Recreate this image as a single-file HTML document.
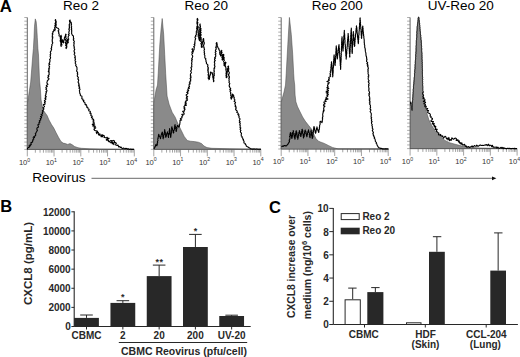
<!DOCTYPE html>
<html><head><meta charset="utf-8"><style>
html,body{margin:0;padding:0;background:#fff;width:520px;height:357px;overflow:hidden;}
svg{display:block;}
</style></head><body>
<svg width="520" height="357" viewBox="0 0 520 357">
<rect width="520" height="357" fill="#fff"/>
<text x="-0.2" y="12.2" font-family="Liberation Sans, sans-serif" font-weight="bold" font-size="16.8">A</text>
<text x="62.900000000000006" y="10.4" font-family="Liberation Sans, sans-serif" font-size="13.5">Reo 2</text>
<text x="184.6" y="10.4" font-family="Liberation Sans, sans-serif" font-size="13.5">Reo 20</text>
<text x="311.7" y="10.4" font-family="Liberation Sans, sans-serif" font-size="13.5">Reo 200</text>
<text x="427.8" y="10.4" font-family="Liberation Sans, sans-serif" font-size="13.5">UV-Reo 20</text>
<line x1="27.3" y1="17.5" x2="27.3" y2="149.4" stroke="#555" stroke-width="0.9"/>
<line x1="24.3" y1="17.50" x2="27.3" y2="17.50" stroke="#777" stroke-width="0.6"/>
<line x1="24.3" y1="21.16" x2="27.3" y2="21.16" stroke="#777" stroke-width="0.6"/>
<line x1="24.3" y1="24.83" x2="27.3" y2="24.83" stroke="#777" stroke-width="0.6"/>
<line x1="24.3" y1="28.49" x2="27.3" y2="28.49" stroke="#777" stroke-width="0.6"/>
<line x1="24.3" y1="32.16" x2="27.3" y2="32.16" stroke="#777" stroke-width="0.6"/>
<line x1="24.3" y1="35.82" x2="27.3" y2="35.82" stroke="#777" stroke-width="0.6"/>
<line x1="24.3" y1="39.48" x2="27.3" y2="39.48" stroke="#777" stroke-width="0.6"/>
<line x1="24.3" y1="43.15" x2="27.3" y2="43.15" stroke="#777" stroke-width="0.6"/>
<line x1="24.3" y1="46.81" x2="27.3" y2="46.81" stroke="#777" stroke-width="0.6"/>
<line x1="24.3" y1="50.48" x2="27.3" y2="50.48" stroke="#777" stroke-width="0.6"/>
<line x1="24.3" y1="54.14" x2="27.3" y2="54.14" stroke="#777" stroke-width="0.6"/>
<line x1="24.3" y1="57.80" x2="27.3" y2="57.80" stroke="#777" stroke-width="0.6"/>
<line x1="24.3" y1="61.47" x2="27.3" y2="61.47" stroke="#777" stroke-width="0.6"/>
<line x1="24.3" y1="65.13" x2="27.3" y2="65.13" stroke="#777" stroke-width="0.6"/>
<line x1="24.3" y1="68.79" x2="27.3" y2="68.79" stroke="#777" stroke-width="0.6"/>
<line x1="24.3" y1="72.46" x2="27.3" y2="72.46" stroke="#777" stroke-width="0.6"/>
<line x1="24.3" y1="76.12" x2="27.3" y2="76.12" stroke="#777" stroke-width="0.6"/>
<line x1="24.3" y1="79.79" x2="27.3" y2="79.79" stroke="#777" stroke-width="0.6"/>
<line x1="24.3" y1="83.45" x2="27.3" y2="83.45" stroke="#777" stroke-width="0.6"/>
<line x1="24.3" y1="87.11" x2="27.3" y2="87.11" stroke="#777" stroke-width="0.6"/>
<line x1="24.3" y1="90.78" x2="27.3" y2="90.78" stroke="#777" stroke-width="0.6"/>
<line x1="24.3" y1="94.44" x2="27.3" y2="94.44" stroke="#777" stroke-width="0.6"/>
<line x1="24.3" y1="98.11" x2="27.3" y2="98.11" stroke="#777" stroke-width="0.6"/>
<line x1="24.3" y1="101.77" x2="27.3" y2="101.77" stroke="#777" stroke-width="0.6"/>
<line x1="24.3" y1="105.43" x2="27.3" y2="105.43" stroke="#777" stroke-width="0.6"/>
<line x1="24.3" y1="109.10" x2="27.3" y2="109.10" stroke="#777" stroke-width="0.6"/>
<line x1="24.3" y1="112.76" x2="27.3" y2="112.76" stroke="#777" stroke-width="0.6"/>
<line x1="24.3" y1="116.43" x2="27.3" y2="116.43" stroke="#777" stroke-width="0.6"/>
<line x1="24.3" y1="120.09" x2="27.3" y2="120.09" stroke="#777" stroke-width="0.6"/>
<line x1="24.3" y1="123.75" x2="27.3" y2="123.75" stroke="#777" stroke-width="0.6"/>
<line x1="24.3" y1="127.42" x2="27.3" y2="127.42" stroke="#777" stroke-width="0.6"/>
<line x1="24.3" y1="131.08" x2="27.3" y2="131.08" stroke="#777" stroke-width="0.6"/>
<line x1="24.3" y1="134.74" x2="27.3" y2="134.74" stroke="#777" stroke-width="0.6"/>
<line x1="24.3" y1="138.41" x2="27.3" y2="138.41" stroke="#777" stroke-width="0.6"/>
<line x1="24.3" y1="142.07" x2="27.3" y2="142.07" stroke="#777" stroke-width="0.6"/>
<line x1="24.3" y1="145.74" x2="27.3" y2="145.74" stroke="#777" stroke-width="0.6"/>
<line x1="24.3" y1="149.40" x2="27.3" y2="149.40" stroke="#777" stroke-width="0.6"/>
<line x1="27.3" y1="149.4" x2="134.3" y2="149.4" stroke="#444" stroke-width="0.9"/>
<line x1="27.30" y1="149.4" x2="27.30" y2="156.4" stroke="#666" stroke-width="0.6"/>
<line x1="35.35" y1="149.4" x2="35.35" y2="152.70000000000002" stroke="#666" stroke-width="0.6"/>
<line x1="40.06" y1="149.4" x2="40.06" y2="152.70000000000002" stroke="#666" stroke-width="0.6"/>
<line x1="43.41" y1="149.4" x2="43.41" y2="152.70000000000002" stroke="#666" stroke-width="0.6"/>
<line x1="46.00" y1="149.4" x2="46.00" y2="152.70000000000002" stroke="#666" stroke-width="0.6"/>
<line x1="48.12" y1="149.4" x2="48.12" y2="152.70000000000002" stroke="#666" stroke-width="0.6"/>
<line x1="49.91" y1="149.4" x2="49.91" y2="152.70000000000002" stroke="#666" stroke-width="0.6"/>
<line x1="51.46" y1="149.4" x2="51.46" y2="152.70000000000002" stroke="#666" stroke-width="0.6"/>
<line x1="52.83" y1="149.4" x2="52.83" y2="152.70000000000002" stroke="#666" stroke-width="0.6"/>
<line x1="54.05" y1="149.4" x2="54.05" y2="156.4" stroke="#666" stroke-width="0.6"/>
<line x1="62.10" y1="149.4" x2="62.10" y2="152.70000000000002" stroke="#666" stroke-width="0.6"/>
<line x1="66.81" y1="149.4" x2="66.81" y2="152.70000000000002" stroke="#666" stroke-width="0.6"/>
<line x1="70.16" y1="149.4" x2="70.16" y2="152.70000000000002" stroke="#666" stroke-width="0.6"/>
<line x1="72.75" y1="149.4" x2="72.75" y2="152.70000000000002" stroke="#666" stroke-width="0.6"/>
<line x1="74.87" y1="149.4" x2="74.87" y2="152.70000000000002" stroke="#666" stroke-width="0.6"/>
<line x1="76.66" y1="149.4" x2="76.66" y2="152.70000000000002" stroke="#666" stroke-width="0.6"/>
<line x1="78.21" y1="149.4" x2="78.21" y2="152.70000000000002" stroke="#666" stroke-width="0.6"/>
<line x1="79.58" y1="149.4" x2="79.58" y2="152.70000000000002" stroke="#666" stroke-width="0.6"/>
<line x1="80.80" y1="149.4" x2="80.80" y2="156.4" stroke="#666" stroke-width="0.6"/>
<line x1="88.85" y1="149.4" x2="88.85" y2="152.70000000000002" stroke="#666" stroke-width="0.6"/>
<line x1="93.56" y1="149.4" x2="93.56" y2="152.70000000000002" stroke="#666" stroke-width="0.6"/>
<line x1="96.91" y1="149.4" x2="96.91" y2="152.70000000000002" stroke="#666" stroke-width="0.6"/>
<line x1="99.50" y1="149.4" x2="99.50" y2="152.70000000000002" stroke="#666" stroke-width="0.6"/>
<line x1="101.62" y1="149.4" x2="101.62" y2="152.70000000000002" stroke="#666" stroke-width="0.6"/>
<line x1="103.41" y1="149.4" x2="103.41" y2="152.70000000000002" stroke="#666" stroke-width="0.6"/>
<line x1="104.96" y1="149.4" x2="104.96" y2="152.70000000000002" stroke="#666" stroke-width="0.6"/>
<line x1="106.33" y1="149.4" x2="106.33" y2="152.70000000000002" stroke="#666" stroke-width="0.6"/>
<line x1="107.55" y1="149.4" x2="107.55" y2="156.4" stroke="#666" stroke-width="0.6"/>
<line x1="115.60" y1="149.4" x2="115.60" y2="152.70000000000002" stroke="#666" stroke-width="0.6"/>
<line x1="120.31" y1="149.4" x2="120.31" y2="152.70000000000002" stroke="#666" stroke-width="0.6"/>
<line x1="123.66" y1="149.4" x2="123.66" y2="152.70000000000002" stroke="#666" stroke-width="0.6"/>
<line x1="126.25" y1="149.4" x2="126.25" y2="152.70000000000002" stroke="#666" stroke-width="0.6"/>
<line x1="128.37" y1="149.4" x2="128.37" y2="152.70000000000002" stroke="#666" stroke-width="0.6"/>
<line x1="130.16" y1="149.4" x2="130.16" y2="152.70000000000002" stroke="#666" stroke-width="0.6"/>
<line x1="131.71" y1="149.4" x2="131.71" y2="152.70000000000002" stroke="#666" stroke-width="0.6"/>
<line x1="133.08" y1="149.4" x2="133.08" y2="152.70000000000002" stroke="#666" stroke-width="0.6"/>
<line x1="134.30" y1="149.4" x2="134.30" y2="156.4" stroke="#666" stroke-width="0.6"/>
<text x="18.90" y="164.70000000000002" font-family="Liberation Sans, sans-serif" font-size="7.6" fill="#333">10<tspan dy="-3.2" font-size="5.2">0</tspan></text>
<text x="45.65" y="164.70000000000002" font-family="Liberation Sans, sans-serif" font-size="7.6" fill="#333">10<tspan dy="-3.2" font-size="5.2">1</tspan></text>
<text x="72.40" y="164.70000000000002" font-family="Liberation Sans, sans-serif" font-size="7.6" fill="#333">10<tspan dy="-3.2" font-size="5.2">2</tspan></text>
<text x="99.15" y="164.70000000000002" font-family="Liberation Sans, sans-serif" font-size="7.6" fill="#333">10<tspan dy="-3.2" font-size="5.2">3</tspan></text>
<text x="125.90" y="164.70000000000002" font-family="Liberation Sans, sans-serif" font-size="7.6" fill="#333">10<tspan dy="-3.2" font-size="5.2">4</tspan></text>
<line x1="153.8" y1="17.5" x2="153.8" y2="149.3" stroke="#555" stroke-width="0.9"/>
<line x1="150.8" y1="17.50" x2="153.8" y2="17.50" stroke="#777" stroke-width="0.6"/>
<line x1="150.8" y1="21.16" x2="153.8" y2="21.16" stroke="#777" stroke-width="0.6"/>
<line x1="150.8" y1="24.82" x2="153.8" y2="24.82" stroke="#777" stroke-width="0.6"/>
<line x1="150.8" y1="28.48" x2="153.8" y2="28.48" stroke="#777" stroke-width="0.6"/>
<line x1="150.8" y1="32.14" x2="153.8" y2="32.14" stroke="#777" stroke-width="0.6"/>
<line x1="150.8" y1="35.81" x2="153.8" y2="35.81" stroke="#777" stroke-width="0.6"/>
<line x1="150.8" y1="39.47" x2="153.8" y2="39.47" stroke="#777" stroke-width="0.6"/>
<line x1="150.8" y1="43.13" x2="153.8" y2="43.13" stroke="#777" stroke-width="0.6"/>
<line x1="150.8" y1="46.79" x2="153.8" y2="46.79" stroke="#777" stroke-width="0.6"/>
<line x1="150.8" y1="50.45" x2="153.8" y2="50.45" stroke="#777" stroke-width="0.6"/>
<line x1="150.8" y1="54.11" x2="153.8" y2="54.11" stroke="#777" stroke-width="0.6"/>
<line x1="150.8" y1="57.77" x2="153.8" y2="57.77" stroke="#777" stroke-width="0.6"/>
<line x1="150.8" y1="61.43" x2="153.8" y2="61.43" stroke="#777" stroke-width="0.6"/>
<line x1="150.8" y1="65.09" x2="153.8" y2="65.09" stroke="#777" stroke-width="0.6"/>
<line x1="150.8" y1="68.76" x2="153.8" y2="68.76" stroke="#777" stroke-width="0.6"/>
<line x1="150.8" y1="72.42" x2="153.8" y2="72.42" stroke="#777" stroke-width="0.6"/>
<line x1="150.8" y1="76.08" x2="153.8" y2="76.08" stroke="#777" stroke-width="0.6"/>
<line x1="150.8" y1="79.74" x2="153.8" y2="79.74" stroke="#777" stroke-width="0.6"/>
<line x1="150.8" y1="83.40" x2="153.8" y2="83.40" stroke="#777" stroke-width="0.6"/>
<line x1="150.8" y1="87.06" x2="153.8" y2="87.06" stroke="#777" stroke-width="0.6"/>
<line x1="150.8" y1="90.72" x2="153.8" y2="90.72" stroke="#777" stroke-width="0.6"/>
<line x1="150.8" y1="94.38" x2="153.8" y2="94.38" stroke="#777" stroke-width="0.6"/>
<line x1="150.8" y1="98.04" x2="153.8" y2="98.04" stroke="#777" stroke-width="0.6"/>
<line x1="150.8" y1="101.71" x2="153.8" y2="101.71" stroke="#777" stroke-width="0.6"/>
<line x1="150.8" y1="105.37" x2="153.8" y2="105.37" stroke="#777" stroke-width="0.6"/>
<line x1="150.8" y1="109.03" x2="153.8" y2="109.03" stroke="#777" stroke-width="0.6"/>
<line x1="150.8" y1="112.69" x2="153.8" y2="112.69" stroke="#777" stroke-width="0.6"/>
<line x1="150.8" y1="116.35" x2="153.8" y2="116.35" stroke="#777" stroke-width="0.6"/>
<line x1="150.8" y1="120.01" x2="153.8" y2="120.01" stroke="#777" stroke-width="0.6"/>
<line x1="150.8" y1="123.67" x2="153.8" y2="123.67" stroke="#777" stroke-width="0.6"/>
<line x1="150.8" y1="127.33" x2="153.8" y2="127.33" stroke="#777" stroke-width="0.6"/>
<line x1="150.8" y1="130.99" x2="153.8" y2="130.99" stroke="#777" stroke-width="0.6"/>
<line x1="150.8" y1="134.66" x2="153.8" y2="134.66" stroke="#777" stroke-width="0.6"/>
<line x1="150.8" y1="138.32" x2="153.8" y2="138.32" stroke="#777" stroke-width="0.6"/>
<line x1="150.8" y1="141.98" x2="153.8" y2="141.98" stroke="#777" stroke-width="0.6"/>
<line x1="150.8" y1="145.64" x2="153.8" y2="145.64" stroke="#777" stroke-width="0.6"/>
<line x1="150.8" y1="149.30" x2="153.8" y2="149.30" stroke="#777" stroke-width="0.6"/>
<line x1="153.8" y1="149.3" x2="260.8" y2="149.3" stroke="#444" stroke-width="0.9"/>
<line x1="153.80" y1="149.3" x2="153.80" y2="156.3" stroke="#666" stroke-width="0.6"/>
<line x1="161.85" y1="149.3" x2="161.85" y2="152.60000000000002" stroke="#666" stroke-width="0.6"/>
<line x1="166.56" y1="149.3" x2="166.56" y2="152.60000000000002" stroke="#666" stroke-width="0.6"/>
<line x1="169.91" y1="149.3" x2="169.91" y2="152.60000000000002" stroke="#666" stroke-width="0.6"/>
<line x1="172.50" y1="149.3" x2="172.50" y2="152.60000000000002" stroke="#666" stroke-width="0.6"/>
<line x1="174.62" y1="149.3" x2="174.62" y2="152.60000000000002" stroke="#666" stroke-width="0.6"/>
<line x1="176.41" y1="149.3" x2="176.41" y2="152.60000000000002" stroke="#666" stroke-width="0.6"/>
<line x1="177.96" y1="149.3" x2="177.96" y2="152.60000000000002" stroke="#666" stroke-width="0.6"/>
<line x1="179.33" y1="149.3" x2="179.33" y2="152.60000000000002" stroke="#666" stroke-width="0.6"/>
<line x1="180.55" y1="149.3" x2="180.55" y2="156.3" stroke="#666" stroke-width="0.6"/>
<line x1="188.60" y1="149.3" x2="188.60" y2="152.60000000000002" stroke="#666" stroke-width="0.6"/>
<line x1="193.31" y1="149.3" x2="193.31" y2="152.60000000000002" stroke="#666" stroke-width="0.6"/>
<line x1="196.66" y1="149.3" x2="196.66" y2="152.60000000000002" stroke="#666" stroke-width="0.6"/>
<line x1="199.25" y1="149.3" x2="199.25" y2="152.60000000000002" stroke="#666" stroke-width="0.6"/>
<line x1="201.37" y1="149.3" x2="201.37" y2="152.60000000000002" stroke="#666" stroke-width="0.6"/>
<line x1="203.16" y1="149.3" x2="203.16" y2="152.60000000000002" stroke="#666" stroke-width="0.6"/>
<line x1="204.71" y1="149.3" x2="204.71" y2="152.60000000000002" stroke="#666" stroke-width="0.6"/>
<line x1="206.08" y1="149.3" x2="206.08" y2="152.60000000000002" stroke="#666" stroke-width="0.6"/>
<line x1="207.30" y1="149.3" x2="207.30" y2="156.3" stroke="#666" stroke-width="0.6"/>
<line x1="215.35" y1="149.3" x2="215.35" y2="152.60000000000002" stroke="#666" stroke-width="0.6"/>
<line x1="220.06" y1="149.3" x2="220.06" y2="152.60000000000002" stroke="#666" stroke-width="0.6"/>
<line x1="223.41" y1="149.3" x2="223.41" y2="152.60000000000002" stroke="#666" stroke-width="0.6"/>
<line x1="226.00" y1="149.3" x2="226.00" y2="152.60000000000002" stroke="#666" stroke-width="0.6"/>
<line x1="228.12" y1="149.3" x2="228.12" y2="152.60000000000002" stroke="#666" stroke-width="0.6"/>
<line x1="229.91" y1="149.3" x2="229.91" y2="152.60000000000002" stroke="#666" stroke-width="0.6"/>
<line x1="231.46" y1="149.3" x2="231.46" y2="152.60000000000002" stroke="#666" stroke-width="0.6"/>
<line x1="232.83" y1="149.3" x2="232.83" y2="152.60000000000002" stroke="#666" stroke-width="0.6"/>
<line x1="234.05" y1="149.3" x2="234.05" y2="156.3" stroke="#666" stroke-width="0.6"/>
<line x1="242.10" y1="149.3" x2="242.10" y2="152.60000000000002" stroke="#666" stroke-width="0.6"/>
<line x1="246.81" y1="149.3" x2="246.81" y2="152.60000000000002" stroke="#666" stroke-width="0.6"/>
<line x1="250.16" y1="149.3" x2="250.16" y2="152.60000000000002" stroke="#666" stroke-width="0.6"/>
<line x1="252.75" y1="149.3" x2="252.75" y2="152.60000000000002" stroke="#666" stroke-width="0.6"/>
<line x1="254.87" y1="149.3" x2="254.87" y2="152.60000000000002" stroke="#666" stroke-width="0.6"/>
<line x1="256.66" y1="149.3" x2="256.66" y2="152.60000000000002" stroke="#666" stroke-width="0.6"/>
<line x1="258.21" y1="149.3" x2="258.21" y2="152.60000000000002" stroke="#666" stroke-width="0.6"/>
<line x1="259.58" y1="149.3" x2="259.58" y2="152.60000000000002" stroke="#666" stroke-width="0.6"/>
<line x1="260.80" y1="149.3" x2="260.80" y2="156.3" stroke="#666" stroke-width="0.6"/>
<text x="145.40" y="164.60000000000002" font-family="Liberation Sans, sans-serif" font-size="7.6" fill="#333">10<tspan dy="-3.2" font-size="5.2">0</tspan></text>
<text x="172.15" y="164.60000000000002" font-family="Liberation Sans, sans-serif" font-size="7.6" fill="#333">10<tspan dy="-3.2" font-size="5.2">1</tspan></text>
<text x="198.90" y="164.60000000000002" font-family="Liberation Sans, sans-serif" font-size="7.6" fill="#333">10<tspan dy="-3.2" font-size="5.2">2</tspan></text>
<text x="225.65" y="164.60000000000002" font-family="Liberation Sans, sans-serif" font-size="7.6" fill="#333">10<tspan dy="-3.2" font-size="5.2">3</tspan></text>
<text x="252.40" y="164.60000000000002" font-family="Liberation Sans, sans-serif" font-size="7.6" fill="#333">10<tspan dy="-3.2" font-size="5.2">4</tspan></text>
<line x1="281.2" y1="17.5" x2="281.2" y2="149.0" stroke="#555" stroke-width="0.9"/>
<line x1="278.2" y1="17.50" x2="281.2" y2="17.50" stroke="#777" stroke-width="0.6"/>
<line x1="278.2" y1="21.15" x2="281.2" y2="21.15" stroke="#777" stroke-width="0.6"/>
<line x1="278.2" y1="24.81" x2="281.2" y2="24.81" stroke="#777" stroke-width="0.6"/>
<line x1="278.2" y1="28.46" x2="281.2" y2="28.46" stroke="#777" stroke-width="0.6"/>
<line x1="278.2" y1="32.11" x2="281.2" y2="32.11" stroke="#777" stroke-width="0.6"/>
<line x1="278.2" y1="35.76" x2="281.2" y2="35.76" stroke="#777" stroke-width="0.6"/>
<line x1="278.2" y1="39.42" x2="281.2" y2="39.42" stroke="#777" stroke-width="0.6"/>
<line x1="278.2" y1="43.07" x2="281.2" y2="43.07" stroke="#777" stroke-width="0.6"/>
<line x1="278.2" y1="46.72" x2="281.2" y2="46.72" stroke="#777" stroke-width="0.6"/>
<line x1="278.2" y1="50.38" x2="281.2" y2="50.38" stroke="#777" stroke-width="0.6"/>
<line x1="278.2" y1="54.03" x2="281.2" y2="54.03" stroke="#777" stroke-width="0.6"/>
<line x1="278.2" y1="57.68" x2="281.2" y2="57.68" stroke="#777" stroke-width="0.6"/>
<line x1="278.2" y1="61.33" x2="281.2" y2="61.33" stroke="#777" stroke-width="0.6"/>
<line x1="278.2" y1="64.99" x2="281.2" y2="64.99" stroke="#777" stroke-width="0.6"/>
<line x1="278.2" y1="68.64" x2="281.2" y2="68.64" stroke="#777" stroke-width="0.6"/>
<line x1="278.2" y1="72.29" x2="281.2" y2="72.29" stroke="#777" stroke-width="0.6"/>
<line x1="278.2" y1="75.94" x2="281.2" y2="75.94" stroke="#777" stroke-width="0.6"/>
<line x1="278.2" y1="79.60" x2="281.2" y2="79.60" stroke="#777" stroke-width="0.6"/>
<line x1="278.2" y1="83.25" x2="281.2" y2="83.25" stroke="#777" stroke-width="0.6"/>
<line x1="278.2" y1="86.90" x2="281.2" y2="86.90" stroke="#777" stroke-width="0.6"/>
<line x1="278.2" y1="90.56" x2="281.2" y2="90.56" stroke="#777" stroke-width="0.6"/>
<line x1="278.2" y1="94.21" x2="281.2" y2="94.21" stroke="#777" stroke-width="0.6"/>
<line x1="278.2" y1="97.86" x2="281.2" y2="97.86" stroke="#777" stroke-width="0.6"/>
<line x1="278.2" y1="101.51" x2="281.2" y2="101.51" stroke="#777" stroke-width="0.6"/>
<line x1="278.2" y1="105.17" x2="281.2" y2="105.17" stroke="#777" stroke-width="0.6"/>
<line x1="278.2" y1="108.82" x2="281.2" y2="108.82" stroke="#777" stroke-width="0.6"/>
<line x1="278.2" y1="112.47" x2="281.2" y2="112.47" stroke="#777" stroke-width="0.6"/>
<line x1="278.2" y1="116.12" x2="281.2" y2="116.12" stroke="#777" stroke-width="0.6"/>
<line x1="278.2" y1="119.78" x2="281.2" y2="119.78" stroke="#777" stroke-width="0.6"/>
<line x1="278.2" y1="123.43" x2="281.2" y2="123.43" stroke="#777" stroke-width="0.6"/>
<line x1="278.2" y1="127.08" x2="281.2" y2="127.08" stroke="#777" stroke-width="0.6"/>
<line x1="278.2" y1="130.74" x2="281.2" y2="130.74" stroke="#777" stroke-width="0.6"/>
<line x1="278.2" y1="134.39" x2="281.2" y2="134.39" stroke="#777" stroke-width="0.6"/>
<line x1="278.2" y1="138.04" x2="281.2" y2="138.04" stroke="#777" stroke-width="0.6"/>
<line x1="278.2" y1="141.69" x2="281.2" y2="141.69" stroke="#777" stroke-width="0.6"/>
<line x1="278.2" y1="145.35" x2="281.2" y2="145.35" stroke="#777" stroke-width="0.6"/>
<line x1="278.2" y1="149.00" x2="281.2" y2="149.00" stroke="#777" stroke-width="0.6"/>
<line x1="281.2" y1="149.0" x2="388.2" y2="149.0" stroke="#444" stroke-width="0.9"/>
<line x1="281.20" y1="149.0" x2="281.20" y2="156.0" stroke="#666" stroke-width="0.6"/>
<line x1="289.25" y1="149.0" x2="289.25" y2="152.3" stroke="#666" stroke-width="0.6"/>
<line x1="293.96" y1="149.0" x2="293.96" y2="152.3" stroke="#666" stroke-width="0.6"/>
<line x1="297.31" y1="149.0" x2="297.31" y2="152.3" stroke="#666" stroke-width="0.6"/>
<line x1="299.90" y1="149.0" x2="299.90" y2="152.3" stroke="#666" stroke-width="0.6"/>
<line x1="302.02" y1="149.0" x2="302.02" y2="152.3" stroke="#666" stroke-width="0.6"/>
<line x1="303.81" y1="149.0" x2="303.81" y2="152.3" stroke="#666" stroke-width="0.6"/>
<line x1="305.36" y1="149.0" x2="305.36" y2="152.3" stroke="#666" stroke-width="0.6"/>
<line x1="306.73" y1="149.0" x2="306.73" y2="152.3" stroke="#666" stroke-width="0.6"/>
<line x1="307.95" y1="149.0" x2="307.95" y2="156.0" stroke="#666" stroke-width="0.6"/>
<line x1="316.00" y1="149.0" x2="316.00" y2="152.3" stroke="#666" stroke-width="0.6"/>
<line x1="320.71" y1="149.0" x2="320.71" y2="152.3" stroke="#666" stroke-width="0.6"/>
<line x1="324.06" y1="149.0" x2="324.06" y2="152.3" stroke="#666" stroke-width="0.6"/>
<line x1="326.65" y1="149.0" x2="326.65" y2="152.3" stroke="#666" stroke-width="0.6"/>
<line x1="328.77" y1="149.0" x2="328.77" y2="152.3" stroke="#666" stroke-width="0.6"/>
<line x1="330.56" y1="149.0" x2="330.56" y2="152.3" stroke="#666" stroke-width="0.6"/>
<line x1="332.11" y1="149.0" x2="332.11" y2="152.3" stroke="#666" stroke-width="0.6"/>
<line x1="333.48" y1="149.0" x2="333.48" y2="152.3" stroke="#666" stroke-width="0.6"/>
<line x1="334.70" y1="149.0" x2="334.70" y2="156.0" stroke="#666" stroke-width="0.6"/>
<line x1="342.75" y1="149.0" x2="342.75" y2="152.3" stroke="#666" stroke-width="0.6"/>
<line x1="347.46" y1="149.0" x2="347.46" y2="152.3" stroke="#666" stroke-width="0.6"/>
<line x1="350.81" y1="149.0" x2="350.81" y2="152.3" stroke="#666" stroke-width="0.6"/>
<line x1="353.40" y1="149.0" x2="353.40" y2="152.3" stroke="#666" stroke-width="0.6"/>
<line x1="355.52" y1="149.0" x2="355.52" y2="152.3" stroke="#666" stroke-width="0.6"/>
<line x1="357.31" y1="149.0" x2="357.31" y2="152.3" stroke="#666" stroke-width="0.6"/>
<line x1="358.86" y1="149.0" x2="358.86" y2="152.3" stroke="#666" stroke-width="0.6"/>
<line x1="360.23" y1="149.0" x2="360.23" y2="152.3" stroke="#666" stroke-width="0.6"/>
<line x1="361.45" y1="149.0" x2="361.45" y2="156.0" stroke="#666" stroke-width="0.6"/>
<line x1="369.50" y1="149.0" x2="369.50" y2="152.3" stroke="#666" stroke-width="0.6"/>
<line x1="374.21" y1="149.0" x2="374.21" y2="152.3" stroke="#666" stroke-width="0.6"/>
<line x1="377.56" y1="149.0" x2="377.56" y2="152.3" stroke="#666" stroke-width="0.6"/>
<line x1="380.15" y1="149.0" x2="380.15" y2="152.3" stroke="#666" stroke-width="0.6"/>
<line x1="382.27" y1="149.0" x2="382.27" y2="152.3" stroke="#666" stroke-width="0.6"/>
<line x1="384.06" y1="149.0" x2="384.06" y2="152.3" stroke="#666" stroke-width="0.6"/>
<line x1="385.61" y1="149.0" x2="385.61" y2="152.3" stroke="#666" stroke-width="0.6"/>
<line x1="386.98" y1="149.0" x2="386.98" y2="152.3" stroke="#666" stroke-width="0.6"/>
<line x1="388.20" y1="149.0" x2="388.20" y2="156.0" stroke="#666" stroke-width="0.6"/>
<text x="272.80" y="164.3" font-family="Liberation Sans, sans-serif" font-size="7.6" fill="#333">10<tspan dy="-3.2" font-size="5.2">0</tspan></text>
<text x="299.55" y="164.3" font-family="Liberation Sans, sans-serif" font-size="7.6" fill="#333">10<tspan dy="-3.2" font-size="5.2">1</tspan></text>
<text x="326.30" y="164.3" font-family="Liberation Sans, sans-serif" font-size="7.6" fill="#333">10<tspan dy="-3.2" font-size="5.2">2</tspan></text>
<text x="353.05" y="164.3" font-family="Liberation Sans, sans-serif" font-size="7.6" fill="#333">10<tspan dy="-3.2" font-size="5.2">3</tspan></text>
<text x="379.80" y="164.3" font-family="Liberation Sans, sans-serif" font-size="7.6" fill="#333">10<tspan dy="-3.2" font-size="5.2">4</tspan></text>
<line x1="410.1" y1="17.5" x2="410.1" y2="148.6" stroke="#555" stroke-width="0.9"/>
<line x1="407.1" y1="17.50" x2="410.1" y2="17.50" stroke="#777" stroke-width="0.6"/>
<line x1="407.1" y1="21.14" x2="410.1" y2="21.14" stroke="#777" stroke-width="0.6"/>
<line x1="407.1" y1="24.78" x2="410.1" y2="24.78" stroke="#777" stroke-width="0.6"/>
<line x1="407.1" y1="28.42" x2="410.1" y2="28.42" stroke="#777" stroke-width="0.6"/>
<line x1="407.1" y1="32.07" x2="410.1" y2="32.07" stroke="#777" stroke-width="0.6"/>
<line x1="407.1" y1="35.71" x2="410.1" y2="35.71" stroke="#777" stroke-width="0.6"/>
<line x1="407.1" y1="39.35" x2="410.1" y2="39.35" stroke="#777" stroke-width="0.6"/>
<line x1="407.1" y1="42.99" x2="410.1" y2="42.99" stroke="#777" stroke-width="0.6"/>
<line x1="407.1" y1="46.63" x2="410.1" y2="46.63" stroke="#777" stroke-width="0.6"/>
<line x1="407.1" y1="50.27" x2="410.1" y2="50.27" stroke="#777" stroke-width="0.6"/>
<line x1="407.1" y1="53.92" x2="410.1" y2="53.92" stroke="#777" stroke-width="0.6"/>
<line x1="407.1" y1="57.56" x2="410.1" y2="57.56" stroke="#777" stroke-width="0.6"/>
<line x1="407.1" y1="61.20" x2="410.1" y2="61.20" stroke="#777" stroke-width="0.6"/>
<line x1="407.1" y1="64.84" x2="410.1" y2="64.84" stroke="#777" stroke-width="0.6"/>
<line x1="407.1" y1="68.48" x2="410.1" y2="68.48" stroke="#777" stroke-width="0.6"/>
<line x1="407.1" y1="72.12" x2="410.1" y2="72.12" stroke="#777" stroke-width="0.6"/>
<line x1="407.1" y1="75.77" x2="410.1" y2="75.77" stroke="#777" stroke-width="0.6"/>
<line x1="407.1" y1="79.41" x2="410.1" y2="79.41" stroke="#777" stroke-width="0.6"/>
<line x1="407.1" y1="83.05" x2="410.1" y2="83.05" stroke="#777" stroke-width="0.6"/>
<line x1="407.1" y1="86.69" x2="410.1" y2="86.69" stroke="#777" stroke-width="0.6"/>
<line x1="407.1" y1="90.33" x2="410.1" y2="90.33" stroke="#777" stroke-width="0.6"/>
<line x1="407.1" y1="93.97" x2="410.1" y2="93.97" stroke="#777" stroke-width="0.6"/>
<line x1="407.1" y1="97.62" x2="410.1" y2="97.62" stroke="#777" stroke-width="0.6"/>
<line x1="407.1" y1="101.26" x2="410.1" y2="101.26" stroke="#777" stroke-width="0.6"/>
<line x1="407.1" y1="104.90" x2="410.1" y2="104.90" stroke="#777" stroke-width="0.6"/>
<line x1="407.1" y1="108.54" x2="410.1" y2="108.54" stroke="#777" stroke-width="0.6"/>
<line x1="407.1" y1="112.18" x2="410.1" y2="112.18" stroke="#777" stroke-width="0.6"/>
<line x1="407.1" y1="115.82" x2="410.1" y2="115.82" stroke="#777" stroke-width="0.6"/>
<line x1="407.1" y1="119.47" x2="410.1" y2="119.47" stroke="#777" stroke-width="0.6"/>
<line x1="407.1" y1="123.11" x2="410.1" y2="123.11" stroke="#777" stroke-width="0.6"/>
<line x1="407.1" y1="126.75" x2="410.1" y2="126.75" stroke="#777" stroke-width="0.6"/>
<line x1="407.1" y1="130.39" x2="410.1" y2="130.39" stroke="#777" stroke-width="0.6"/>
<line x1="407.1" y1="134.03" x2="410.1" y2="134.03" stroke="#777" stroke-width="0.6"/>
<line x1="407.1" y1="137.68" x2="410.1" y2="137.68" stroke="#777" stroke-width="0.6"/>
<line x1="407.1" y1="141.32" x2="410.1" y2="141.32" stroke="#777" stroke-width="0.6"/>
<line x1="407.1" y1="144.96" x2="410.1" y2="144.96" stroke="#777" stroke-width="0.6"/>
<line x1="407.1" y1="148.60" x2="410.1" y2="148.60" stroke="#777" stroke-width="0.6"/>
<line x1="410.1" y1="148.6" x2="517.1" y2="148.6" stroke="#444" stroke-width="0.9"/>
<line x1="410.10" y1="148.6" x2="410.10" y2="155.6" stroke="#666" stroke-width="0.6"/>
<line x1="418.15" y1="148.6" x2="418.15" y2="151.9" stroke="#666" stroke-width="0.6"/>
<line x1="422.86" y1="148.6" x2="422.86" y2="151.9" stroke="#666" stroke-width="0.6"/>
<line x1="426.21" y1="148.6" x2="426.21" y2="151.9" stroke="#666" stroke-width="0.6"/>
<line x1="428.80" y1="148.6" x2="428.80" y2="151.9" stroke="#666" stroke-width="0.6"/>
<line x1="430.92" y1="148.6" x2="430.92" y2="151.9" stroke="#666" stroke-width="0.6"/>
<line x1="432.71" y1="148.6" x2="432.71" y2="151.9" stroke="#666" stroke-width="0.6"/>
<line x1="434.26" y1="148.6" x2="434.26" y2="151.9" stroke="#666" stroke-width="0.6"/>
<line x1="435.63" y1="148.6" x2="435.63" y2="151.9" stroke="#666" stroke-width="0.6"/>
<line x1="436.85" y1="148.6" x2="436.85" y2="155.6" stroke="#666" stroke-width="0.6"/>
<line x1="444.90" y1="148.6" x2="444.90" y2="151.9" stroke="#666" stroke-width="0.6"/>
<line x1="449.61" y1="148.6" x2="449.61" y2="151.9" stroke="#666" stroke-width="0.6"/>
<line x1="452.96" y1="148.6" x2="452.96" y2="151.9" stroke="#666" stroke-width="0.6"/>
<line x1="455.55" y1="148.6" x2="455.55" y2="151.9" stroke="#666" stroke-width="0.6"/>
<line x1="457.67" y1="148.6" x2="457.67" y2="151.9" stroke="#666" stroke-width="0.6"/>
<line x1="459.46" y1="148.6" x2="459.46" y2="151.9" stroke="#666" stroke-width="0.6"/>
<line x1="461.01" y1="148.6" x2="461.01" y2="151.9" stroke="#666" stroke-width="0.6"/>
<line x1="462.38" y1="148.6" x2="462.38" y2="151.9" stroke="#666" stroke-width="0.6"/>
<line x1="463.60" y1="148.6" x2="463.60" y2="155.6" stroke="#666" stroke-width="0.6"/>
<line x1="471.65" y1="148.6" x2="471.65" y2="151.9" stroke="#666" stroke-width="0.6"/>
<line x1="476.36" y1="148.6" x2="476.36" y2="151.9" stroke="#666" stroke-width="0.6"/>
<line x1="479.71" y1="148.6" x2="479.71" y2="151.9" stroke="#666" stroke-width="0.6"/>
<line x1="482.30" y1="148.6" x2="482.30" y2="151.9" stroke="#666" stroke-width="0.6"/>
<line x1="484.42" y1="148.6" x2="484.42" y2="151.9" stroke="#666" stroke-width="0.6"/>
<line x1="486.21" y1="148.6" x2="486.21" y2="151.9" stroke="#666" stroke-width="0.6"/>
<line x1="487.76" y1="148.6" x2="487.76" y2="151.9" stroke="#666" stroke-width="0.6"/>
<line x1="489.13" y1="148.6" x2="489.13" y2="151.9" stroke="#666" stroke-width="0.6"/>
<line x1="490.35" y1="148.6" x2="490.35" y2="155.6" stroke="#666" stroke-width="0.6"/>
<line x1="498.40" y1="148.6" x2="498.40" y2="151.9" stroke="#666" stroke-width="0.6"/>
<line x1="503.11" y1="148.6" x2="503.11" y2="151.9" stroke="#666" stroke-width="0.6"/>
<line x1="506.46" y1="148.6" x2="506.46" y2="151.9" stroke="#666" stroke-width="0.6"/>
<line x1="509.05" y1="148.6" x2="509.05" y2="151.9" stroke="#666" stroke-width="0.6"/>
<line x1="511.17" y1="148.6" x2="511.17" y2="151.9" stroke="#666" stroke-width="0.6"/>
<line x1="512.96" y1="148.6" x2="512.96" y2="151.9" stroke="#666" stroke-width="0.6"/>
<line x1="514.51" y1="148.6" x2="514.51" y2="151.9" stroke="#666" stroke-width="0.6"/>
<line x1="515.88" y1="148.6" x2="515.88" y2="151.9" stroke="#666" stroke-width="0.6"/>
<line x1="517.10" y1="148.6" x2="517.10" y2="155.6" stroke="#666" stroke-width="0.6"/>
<text x="401.70" y="163.9" font-family="Liberation Sans, sans-serif" font-size="7.6" fill="#333">10<tspan dy="-3.2" font-size="5.2">0</tspan></text>
<text x="428.45" y="163.9" font-family="Liberation Sans, sans-serif" font-size="7.6" fill="#333">10<tspan dy="-3.2" font-size="5.2">1</tspan></text>
<text x="455.20" y="163.9" font-family="Liberation Sans, sans-serif" font-size="7.6" fill="#333">10<tspan dy="-3.2" font-size="5.2">2</tspan></text>
<text x="481.95" y="163.9" font-family="Liberation Sans, sans-serif" font-size="7.6" fill="#333">10<tspan dy="-3.2" font-size="5.2">3</tspan></text>
<text x="508.70" y="163.9" font-family="Liberation Sans, sans-serif" font-size="7.6" fill="#333">10<tspan dy="-3.2" font-size="5.2">4</tspan></text>
<text x="32.2" y="182.2" font-family="Liberation Sans, sans-serif" font-size="13.5">Reovirus</text>
<line x1="91.5" y1="178.3" x2="493" y2="178.3" stroke="#6a6a6a" stroke-width="1"/>
<path d="M492,176.4 L496.4,178.3 L492,180.2 Z" fill="#111"/>
<text x="0.3" y="212.4" font-family="Liberation Sans, sans-serif" font-weight="bold" font-size="16.5">B</text>
<line x1="74.2" y1="211.3" x2="74.2" y2="326.5" stroke="#282828" stroke-width="1.1"/>
<line x1="71.4" y1="326.50" x2="74.2" y2="326.50" stroke="#282828" stroke-width="1"/>
<text x="70.7" y="330.40" font-family="Liberation Sans, sans-serif" font-weight="bold" font-size="10" text-anchor="end" fill="#282828">0</text>
<line x1="71.4" y1="307.38" x2="74.2" y2="307.38" stroke="#282828" stroke-width="1"/>
<text x="70.7" y="311.28" font-family="Liberation Sans, sans-serif" font-weight="bold" font-size="10" text-anchor="end" fill="#282828">2000</text>
<line x1="71.4" y1="288.27" x2="74.2" y2="288.27" stroke="#282828" stroke-width="1"/>
<text x="70.7" y="292.17" font-family="Liberation Sans, sans-serif" font-weight="bold" font-size="10" text-anchor="end" fill="#282828">4000</text>
<line x1="71.4" y1="269.15" x2="74.2" y2="269.15" stroke="#282828" stroke-width="1"/>
<text x="70.7" y="273.05" font-family="Liberation Sans, sans-serif" font-weight="bold" font-size="10" text-anchor="end" fill="#282828">6000</text>
<line x1="71.4" y1="250.03" x2="74.2" y2="250.03" stroke="#282828" stroke-width="1"/>
<text x="70.7" y="253.93" font-family="Liberation Sans, sans-serif" font-weight="bold" font-size="10" text-anchor="end" fill="#282828">8000</text>
<line x1="71.4" y1="230.92" x2="74.2" y2="230.92" stroke="#282828" stroke-width="1"/>
<text x="70.7" y="234.82" font-family="Liberation Sans, sans-serif" font-weight="bold" font-size="10" text-anchor="end" fill="#282828">10000</text>
<line x1="71.4" y1="211.80" x2="74.2" y2="211.80" stroke="#282828" stroke-width="1"/>
<text x="70.7" y="215.70" font-family="Liberation Sans, sans-serif" font-weight="bold" font-size="10" text-anchor="end" fill="#282828">12000</text>
<line x1="74.2" y1="326.5" x2="250.7" y2="326.5" stroke="#282828" stroke-width="1.1"/>
<line x1="86.5" y1="317.9" x2="86.5" y2="315" stroke="#282828" stroke-width="1"/>
<line x1="80.2" y1="315" x2="92.8" y2="315" stroke="#282828" stroke-width="1"/>
<rect x="74.10" y="317.9" width="24.8" height="8.60" fill="#282828"/>
<line x1="86.5" y1="326.5" x2="86.5" y2="329.5" stroke="#282828" stroke-width="1"/>
<text x="86.5" y="338.8" font-family="Liberation Sans, sans-serif" font-weight="bold" font-size="10" text-anchor="middle" fill="#282828">CBMC</text>
<line x1="122.85" y1="302.9" x2="122.85" y2="300.7" stroke="#282828" stroke-width="1"/>
<line x1="116.55" y1="300.7" x2="129.15" y2="300.7" stroke="#282828" stroke-width="1"/>
<rect x="110.45" y="302.9" width="24.8" height="23.60" fill="#282828"/>
<line x1="122.85" y1="326.5" x2="122.85" y2="329.5" stroke="#282828" stroke-width="1"/>
<text x="122.85" y="338.8" font-family="Liberation Sans, sans-serif" font-weight="bold" font-size="10" text-anchor="middle" fill="#282828">2</text>
<text x="122.85" y="300.20" font-family="Liberation Sans, sans-serif" font-weight="bold" font-size="9" text-anchor="middle" fill="#282828">*</text>
<line x1="159.15" y1="276.1" x2="159.15" y2="265.1" stroke="#282828" stroke-width="1"/>
<line x1="152.85" y1="265.1" x2="165.45000000000002" y2="265.1" stroke="#282828" stroke-width="1"/>
<rect x="146.75" y="276.1" width="24.8" height="50.40" fill="#282828"/>
<line x1="159.15" y1="326.5" x2="159.15" y2="329.5" stroke="#282828" stroke-width="1"/>
<text x="159.15" y="338.8" font-family="Liberation Sans, sans-serif" font-weight="bold" font-size="10" text-anchor="middle" fill="#282828">20</text>
<text x="157.35" y="264.60" font-family="Liberation Sans, sans-serif" font-weight="bold" font-size="9" text-anchor="middle" fill="#282828">*</text>
<text x="161.15" y="264.60" font-family="Liberation Sans, sans-serif" font-weight="bold" font-size="9" text-anchor="middle" fill="#282828">*</text>
<line x1="195.4" y1="247.0" x2="195.4" y2="234.4" stroke="#282828" stroke-width="1"/>
<line x1="189.1" y1="234.4" x2="201.70000000000002" y2="234.4" stroke="#282828" stroke-width="1"/>
<rect x="183.00" y="247.0" width="24.8" height="79.50" fill="#282828"/>
<line x1="195.4" y1="326.5" x2="195.4" y2="329.5" stroke="#282828" stroke-width="1"/>
<text x="195.4" y="338.8" font-family="Liberation Sans, sans-serif" font-weight="bold" font-size="10" text-anchor="middle" fill="#282828">200</text>
<text x="195.40" y="233.90" font-family="Liberation Sans, sans-serif" font-weight="bold" font-size="9" text-anchor="middle" fill="#282828">*</text>
<line x1="231.65" y1="316" x2="231.65" y2="315.2" stroke="#282828" stroke-width="1"/>
<line x1="225.35" y1="315.2" x2="237.95000000000002" y2="315.2" stroke="#282828" stroke-width="1"/>
<rect x="219.25" y="316" width="24.8" height="10.50" fill="#282828"/>
<line x1="231.65" y1="326.5" x2="231.65" y2="329.5" stroke="#282828" stroke-width="1"/>
<text x="231.65" y="338.8" font-family="Liberation Sans, sans-serif" font-weight="bold" font-size="10" text-anchor="middle" fill="#282828">UV-20</text>
<line x1="118.8" y1="342.5" x2="247.2" y2="342.5" stroke="#282828" stroke-width="1"/>
<text x="184.0" y="354.6" font-family="Liberation Sans, sans-serif" font-weight="bold" font-size="10.5" text-anchor="middle" fill="#282828">CBMC Reovirus (pfu/cell)</text>
<text transform="translate(32.0,263.4) rotate(-90)" font-family="Liberation Sans, sans-serif" font-weight="bold" font-size="11.5" text-anchor="middle" fill="#282828">CXCL8 (pg/mL)</text>
<text x="268.9" y="213.0" font-family="Liberation Sans, sans-serif" font-weight="bold" font-size="16.5">C</text>
<line x1="333.3" y1="207.9" x2="333.3" y2="324.5" stroke="#282828" stroke-width="1.1"/>
<line x1="329.3" y1="324.50" x2="333.3" y2="324.50" stroke="#282828" stroke-width="1"/>
<text x="328.7" y="328.40" font-family="Liberation Sans, sans-serif" font-weight="bold" font-size="10" text-anchor="end" fill="#282828">0</text>
<line x1="329.3" y1="301.28" x2="333.3" y2="301.28" stroke="#282828" stroke-width="1"/>
<text x="328.7" y="305.18" font-family="Liberation Sans, sans-serif" font-weight="bold" font-size="10" text-anchor="end" fill="#282828">2</text>
<line x1="329.3" y1="278.06" x2="333.3" y2="278.06" stroke="#282828" stroke-width="1"/>
<text x="328.7" y="281.96" font-family="Liberation Sans, sans-serif" font-weight="bold" font-size="10" text-anchor="end" fill="#282828">4</text>
<line x1="329.3" y1="254.84" x2="333.3" y2="254.84" stroke="#282828" stroke-width="1"/>
<text x="328.7" y="258.74" font-family="Liberation Sans, sans-serif" font-weight="bold" font-size="10" text-anchor="end" fill="#282828">6</text>
<line x1="329.3" y1="231.62" x2="333.3" y2="231.62" stroke="#282828" stroke-width="1"/>
<text x="328.7" y="235.52" font-family="Liberation Sans, sans-serif" font-weight="bold" font-size="10" text-anchor="end" fill="#282828">8</text>
<line x1="329.3" y1="208.40" x2="333.3" y2="208.40" stroke="#282828" stroke-width="1"/>
<text x="328.7" y="212.30" font-family="Liberation Sans, sans-serif" font-weight="bold" font-size="10" text-anchor="end" fill="#282828">10</text>
<line x1="333.3" y1="324.5" x2="517.9" y2="324.5" stroke="#282828" stroke-width="1.1"/>
<rect x="341.2" y="213.6" width="18" height="6" fill="#fff" stroke="#282828" stroke-width="1"/>
<rect x="340.7" y="227.7" width="19" height="6.6" fill="#282828"/>
<text x="362.4" y="220.3" font-family="Liberation Sans, sans-serif" font-weight="bold" font-size="10" fill="#282828">Reo 2</text>
<text x="362.4" y="234.3" font-family="Liberation Sans, sans-serif" font-weight="bold" font-size="10" fill="#282828">Reo 20</text>
<line x1="352.70000000000005" y1="299.3" x2="352.70000000000005" y2="288.1" stroke="#282828" stroke-width="1"/>
<line x1="348.2" y1="288.1" x2="356.6" y2="288.1" stroke="#282828" stroke-width="1"/>
<rect x="345.1" y="299.8" width="15.20" height="24.70" fill="#fff" stroke="#282828" stroke-width="1"/>
<line x1="375.35" y1="292.1" x2="375.35" y2="287.6" stroke="#282828" stroke-width="1"/>
<line x1="371.2" y1="287.6" x2="379.6" y2="287.6" stroke="#282828" stroke-width="1"/>
<rect x="367.3" y="292.1" width="16.10" height="32.40" fill="#282828"/>
<rect x="406.5" y="322.8" width="14.50" height="1.70" fill="#fff" stroke="#282828" stroke-width="1"/>
<line x1="436.9" y1="251.8" x2="436.9" y2="236.7" stroke="#282828" stroke-width="1"/>
<line x1="432.9" y1="236.7" x2="441.3" y2="236.7" stroke="#282828" stroke-width="1"/>
<rect x="429" y="251.8" width="15.80" height="72.70" fill="#282828"/>
<line x1="498.15" y1="270.6" x2="498.15" y2="232.9" stroke="#282828" stroke-width="1"/>
<line x1="494.1" y1="232.9" x2="502.5" y2="232.9" stroke="#282828" stroke-width="1"/>
<rect x="490.3" y="270.6" width="15.70" height="53.90" fill="#282828"/>
<line x1="364.5" y1="324.5" x2="364.5" y2="327.5" stroke="#282828" stroke-width="1"/>
<line x1="425.3" y1="324.5" x2="425.3" y2="327.5" stroke="#282828" stroke-width="1"/>
<line x1="486.2" y1="324.5" x2="486.2" y2="327.5" stroke="#282828" stroke-width="1"/>
<text x="363.8" y="337.8" font-family="Liberation Sans, sans-serif" font-weight="bold" font-size="10" text-anchor="middle" fill="#282828">CBMC</text>
<text x="425.5" y="337.8" font-family="Liberation Sans, sans-serif" font-weight="bold" font-size="10" text-anchor="middle" fill="#282828">HDF</text>
<text x="425.5" y="347.6" font-family="Liberation Sans, sans-serif" font-weight="bold" font-size="10" text-anchor="middle" fill="#282828">(Skin)</text>
<text x="486.4" y="337.8" font-family="Liberation Sans, sans-serif" font-weight="bold" font-size="10" text-anchor="middle" fill="#282828">CCL-204</text>
<text x="485.4" y="347.6" font-family="Liberation Sans, sans-serif" font-weight="bold" font-size="10" text-anchor="middle" fill="#282828">(Lung)</text>
<text transform="translate(294.9,266.5) rotate(-90)" font-family="Liberation Sans, sans-serif" font-weight="bold" font-size="10.3" text-anchor="middle" fill="#282828">CXCL8 increase over</text>
<text transform="translate(310.5,265.1) rotate(-90)" font-family="Liberation Sans, sans-serif" font-weight="bold" font-size="10.5" text-anchor="middle" fill="#282828">medium (ng/10<tspan dy="-4" font-size="7.5">6</tspan><tspan dy="4"> cells)</tspan></text>
<polygon points="27.30,149.40 27.30,104.00 29.00,93.00 30.70,82.00 32.80,55.00 33.40,48.60 34.00,37.40 34.50,26.20 35.30,18.90 36.20,21.70 36.80,28.50 37.30,37.40 37.90,48.60 38.50,55.00 39.50,80.00 40.30,88.00 41.10,100.00 43.10,110.00 47.10,115.50 49.00,120.00 51.50,124.60 53.80,128.10 56.10,132.70 58.50,137.30 60.80,141.30 63.10,143.10 65.40,143.60 67.70,144.40 70.00,143.60 72.30,144.80 74.60,146.50 78.00,147.70 81.50,148.30 90.00,148.80 100.00,149.00 134.00,149.40" fill="#8a8a8a" stroke="#444" stroke-width="0.5" stroke-linejoin="round"/>
<polyline points="27.50,149.40 27.46,148.51 27.87,147.87 28.60,147.40 29.43,147.05 29.08,145.90 30.38,145.87 30.03,144.72 31.24,144.63 31.01,143.55 30.98,142.62 32.00,142.40 32.77,141.87 32.44,140.90 33.05,140.31 32.90,139.40 33.86,138.95 33.15,137.82 34.55,137.55 33.83,136.42 34.93,136.03 35.63,135.47 35.76,134.68 35.24,133.63 35.99,133.09 36.10,132.30 36.73,131.68 36.97,130.92 37.49,130.26 36.83,129.21 36.93,128.41 37.22,127.67 38.36,127.22 38.40,126.40 38.01,125.44 38.01,124.60 39.14,124.15 38.92,123.24 39.10,122.47 40.01,121.94 39.27,120.86 40.10,120.30 40.85,119.74 40.13,118.74 41.05,118.23 41.59,117.60 40.49,116.49 41.77,116.09 42.14,115.41 41.07,114.31 42.34,113.90 42.59,113.19 42.26,112.31 43.18,111.79 42.37,110.77 43.10,110.20 43.69,109.51 43.86,108.74 42.87,107.73 43.97,107.14 44.54,106.45 43.75,105.48 43.43,104.61 45.08,104.13 45.02,103.31 44.42,102.39 45.55,101.80 44.35,100.76 45.10,100.10 45.88,99.43 44.94,98.55 46.00,97.91 45.18,97.04 46.28,96.41 45.33,95.53 45.48,94.78 46.19,94.10 45.76,93.28 46.45,92.60 45.90,91.76 46.97,91.13 46.92,90.36 45.90,89.46 46.71,88.80 45.88,87.93 45.94,87.17 47.38,86.58 46.27,85.68 47.00,85.00 47.97,84.35 46.92,83.22 46.92,82.34 47.25,81.54 47.35,80.68 48.20,80.00 48.77,79.29 48.93,78.54 47.79,77.71 47.97,76.97 48.81,76.27 48.06,75.47 49.05,74.78 49.23,74.04 49.02,73.27 49.17,72.53 48.23,71.71 49.36,71.04 48.47,70.22 49.20,69.52 48.64,68.72 49.65,68.04 48.99,67.24 49.63,66.53 49.03,65.74 48.84,64.97 49.88,64.29 48.96,63.47 49.77,62.77 49.50,62.00 50.13,61.26 49.99,60.42 49.55,59.54 50.23,58.80 50.47,58.01 50.61,57.21 50.02,56.31 50.53,55.56 50.12,54.68 50.82,53.95 50.60,53.10 50.27,52.27 50.57,51.55 51.12,50.87 51.26,50.12 51.62,49.41 50.96,48.52 51.70,47.88 51.55,47.08 51.59,46.31 52.06,45.62 51.77,44.80 52.20,44.10 52.63,43.35 52.80,42.59 52.12,41.78 52.53,41.03 52.08,40.24 52.24,39.48 52.72,38.73 52.17,37.93 52.97,37.20 52.13,36.39 52.47,35.64 52.23,34.85 52.99,34.12 52.22,33.31 53.12,32.59 52.80,31.80 53.57,31.27 53.81,30.47 53.90,29.60 54.59,30.01 55.00,30.70 54.58,29.88 55.50,29.12 54.63,28.27 54.64,27.47 55.66,26.72 54.76,25.87 55.04,25.09 55.64,24.32 54.95,23.48 55.55,22.71 55.61,21.91 55.70,21.11 55.11,20.28 55.60,19.50 55.49,20.29 56.14,21.03 56.18,21.81 56.16,22.60 56.04,23.39 55.63,24.21 56.44,24.93 55.75,25.77 55.79,26.55 56.20,27.30 57.30,27.90 58.40,28.40 58.74,29.13 59.03,29.87 58.13,30.71 58.33,31.45 58.93,32.16 58.48,32.96 58.99,33.68 59.26,34.42 59.00,35.20 59.23,36.07 60.10,36.30 60.49,37.07 60.11,37.91 60.60,38.67 60.89,39.45 60.15,40.33 60.82,41.07 60.60,41.90 60.18,41.02 60.99,40.25 60.45,39.35 60.74,38.54 60.86,37.70 61.26,36.89 60.88,36.02 61.20,35.20 60.82,36.00 61.62,36.80 60.87,37.60 61.39,38.40 60.90,39.20 61.49,40.00 61.02,40.80 61.58,41.60 60.86,42.40 60.83,43.20 60.99,44.00 60.74,44.80 60.96,45.60 61.20,46.40 60.82,45.56 61.98,44.98 61.73,44.16 61.27,43.31 61.96,42.65 62.22,41.91 62.22,41.14 61.78,40.29 62.30,39.60 62.39,40.51 63.33,41.15 63.28,42.10 63.40,43.00 64.00,42.29 63.35,41.32 64.05,40.63 63.96,39.77 64.58,39.07 64.26,38.16 64.60,37.40 65.06,36.61 65.66,35.86 65.57,34.90 65.70,34.00 66.25,34.75 65.31,35.55 66.09,36.29 65.51,37.08 65.95,37.84 66.33,38.59 65.58,39.39 65.63,40.16 66.12,40.91 65.85,41.69 65.54,42.47 65.54,43.24 66.32,43.98 65.74,44.77 65.64,45.54 66.62,46.28 66.59,47.05 66.46,47.82 66.20,48.60 65.82,47.79 66.84,47.16 66.78,46.39 66.74,45.62 66.39,44.81 67.06,44.13 66.53,43.30 67.51,42.67 66.85,41.82 67.55,41.15 67.03,40.31 67.40,39.60 67.91,40.39 68.08,41.24 67.89,42.13 67.90,43.00 68.41,42.27 67.79,41.42 68.35,40.69 68.09,39.88 68.82,39.17 68.08,38.30 68.14,37.52 68.20,36.74 68.52,35.99 69.18,35.28 68.32,34.40 69.23,33.71 69.00,32.90 68.72,32.08 69.22,31.31 69.42,30.52 68.81,29.68 69.45,28.91 68.91,28.08 69.72,27.32 69.23,26.49 69.51,25.71 69.00,24.88 69.97,24.13 69.64,23.31 70.07,22.53 69.60,21.70 69.43,20.68 70.20,20.00 70.08,20.92 70.36,21.74 71.25,22.44 71.24,23.33 71.57,24.15 71.30,25.10 71.21,25.95 71.73,26.75 71.36,27.62 71.71,28.44 71.22,29.32 71.90,30.11 71.45,30.98 71.80,31.80 71.62,32.71 71.59,33.59 72.04,34.39 72.40,35.20 73.21,35.71 73.47,36.50 73.50,37.40 73.33,38.16 73.95,38.88 73.27,39.68 73.51,40.41 74.28,41.11 74.29,41.87 73.72,42.66 74.19,43.38 73.80,44.16 74.14,44.89 73.65,45.68 74.10,46.40 74.53,47.16 73.88,47.98 74.49,48.73 74.75,49.50 74.17,50.32 74.00,51.11 74.22,51.88 74.68,52.64 74.78,53.42 74.02,54.25 74.60,55.00 75.03,55.71 75.29,56.44 74.61,57.28 75.45,57.94 74.92,58.77 75.47,59.46 75.01,60.28 75.19,61.02 75.82,61.70 75.28,62.53 75.20,63.30 75.70,64.00 76.03,64.76 75.60,65.67 76.34,66.34 76.70,67.09 77.02,67.84 76.96,68.68 77.06,69.48 76.69,70.38 76.63,71.21 77.30,71.90 77.66,72.65 77.20,73.49 77.85,74.21 77.28,75.06 77.38,75.84 77.45,76.62 78.36,77.31 78.23,78.11 77.73,78.96 78.54,79.66 78.66,80.43 78.48,81.24 77.95,82.09 78.67,82.80 78.60,83.60 79.25,84.26 78.45,85.17 79.44,85.77 78.89,86.64 79.71,87.27 78.90,88.18 79.77,88.80 80.06,89.53 79.39,90.41 79.44,91.18 79.71,91.90 79.71,92.67 79.78,93.44 80.40,94.10 80.23,95.05 80.66,95.73 81.81,96.09 82.01,96.87 81.86,97.82 81.80,98.72 82.88,99.11 82.71,100.06 83.90,100.39 83.42,101.49 84.00,102.10 84.83,102.53 85.07,103.33 85.03,104.34 86.29,104.48 86.06,105.59 86.87,106.03 86.68,107.13 87.77,107.38 88.00,108.20 88.09,109.00 89.18,109.28 88.64,110.40 89.02,111.05 90.28,111.24 90.36,112.05 89.81,113.18 90.99,113.41 91.10,114.20 90.70,115.18 91.25,115.84 92.27,116.35 91.38,117.49 92.67,117.91 92.07,118.95 93.71,119.26 93.10,120.30 94.04,120.96 92.91,121.91 93.97,122.56 94.37,123.29 92.26,124.39 94.68,124.84 92.66,125.92 95.31,126.33 94.10,127.30 95.76,127.75 93.88,129.22 94.34,130.02 95.10,130.72 95.93,130.71 97.24,131.14 97.63,131.83 97.40,132.69 96.77,133.66 96.23,132.32 97.60,131.87 98.40,132.64 98.85,133.52 98.43,134.66 99.27,134.66 100.10,134.06 99.24,135.26 102.29,135.01 100.97,136.39 102.20,135.94 101.84,134.68 102.95,135.04 101.01,136.67 102.71,136.78 101.93,135.31 103.59,135.54 104.46,135.98 103.97,137.34 105.33,137.81 107.40,137.79 107.23,138.69 106.20,139.94 107.42,139.31 107.47,138.35 107.00,137.22 107.80,138.04 109.12,138.37 106.49,140.16 108.60,140.20 108.34,141.39 109.40,141.99 110.20,140.74 111.20,140.61 112.27,141.16 110.51,142.59 112.84,142.75 112.20,143.83 113.84,143.38 112.02,141.92 112.07,141.00 113.20,140.40 114.62,141.00 114.42,141.90 114.21,142.81 113.30,143.85 114.00,144.58 113.00,143.04 114.80,142.67 115.60,142.63 116.40,143.12 115.69,144.22 115.67,145.08 117.20,145.40 117.97,145.06 118.75,146.97 119.53,146.49 120.30,147.40 121.10,147.10 121.90,148.30 122.70,148.55 123.50,148.02 124.30,148.50 125.11,148.71 125.93,148.34 126.74,148.43 127.56,149.18 128.37,148.82 129.19,149.36 130.00,149.20 130.80,149.09 131.60,149.40 132.40,149.40 133.20,149.18 134.00,149.40" fill="none" stroke="#000" stroke-width="1.1" stroke-linejoin="round"/>
<polygon points="153.80,149.30 153.80,103.20 156.00,90.00 157.50,85.00 158.20,73.80 159.80,44.40 161.00,30.00 162.20,18.50 163.70,34.60 164.70,54.20 165.70,73.80 166.40,85.00 167.10,96.10 169.10,104.20 172.10,112.20 175.20,117.20 178.20,124.30 181.20,130.30 184.20,136.40 187.20,140.40 190.30,141.20 194.30,141.60 198.30,142.20 201.50,143.50 204.00,146.00 207.00,147.60 212.00,148.30 230.00,148.80 261.00,149.30" fill="#8a8a8a" stroke="#444" stroke-width="0.5" stroke-linejoin="round"/>
<polyline points="154.20,148.80 154.32,148.01 154.88,147.40 154.98,146.60 155.61,146.02 155.53,145.15 156.00,144.50 156.35,145.26 157.00,145.77 156.96,144.99 157.47,144.28 157.10,143.45 157.64,142.74 157.41,141.93 157.60,141.18 158.02,140.46 157.81,139.65 157.73,138.85 158.24,138.15 158.09,137.34 158.41,136.61 158.36,135.82 158.77,135.10 158.65,134.30 159.07,134.99 159.09,135.84 159.58,136.49 160.06,137.16 160.29,137.92 160.40,138.73 160.73,138.02 160.60,137.18 161.09,136.51 161.03,135.69 161.23,134.94 161.81,134.29 161.62,133.44 162.12,132.77 162.18,131.99 162.51,132.71 162.24,133.53 162.74,134.23 162.54,135.03 162.96,135.74 162.74,136.55 163.12,137.27 162.87,138.08 163.25,138.80 163.11,138.00 163.74,137.32 163.52,136.50 163.48,135.72 163.96,135.01 164.09,134.26 164.03,133.47 164.39,132.74 164.59,131.99 164.39,131.18 164.79,130.47 164.69,129.67 164.61,130.47 165.09,131.18 164.85,132.00 165.41,132.70 165.36,133.49 165.14,134.31 165.76,135.00 165.41,135.84 165.63,136.59 165.85,137.34 165.98,136.52 166.51,135.82 166.31,134.90 166.88,134.21 166.75,133.31 167.42,132.65 167.47,131.80 167.37,132.66 167.64,133.44 168.19,134.16 168.27,134.98 168.12,135.84 168.24,136.65 168.57,137.42 168.45,136.59 168.52,135.79 168.59,134.98 169.15,134.23 168.94,133.39 169.22,132.61 169.40,131.81 169.10,130.97 169.54,130.20 169.60,129.39 169.55,128.57 169.80,129.36 169.56,130.20 169.94,130.96 169.77,131.80 169.88,132.60 170.05,133.39 170.45,134.15 170.30,134.99 170.63,135.76 170.48,136.59 170.71,137.37 170.85,136.62 170.77,135.85 171.12,135.12 170.81,134.32 171.35,133.62 171.08,132.82 171.56,132.11 171.26,131.31 171.27,130.54 171.75,129.83 171.81,129.07 171.56,128.28 171.67,127.53 171.93,126.79 172.00,127.61 172.20,128.39 172.64,129.11 172.63,129.94 173.07,130.66 173.03,131.50 173.18,132.30 173.48,133.05 173.81,132.32 173.53,131.47 173.79,130.72 174.24,130.01 174.38,129.23 174.48,128.45 174.37,127.64 174.75,126.91 174.62,126.09 174.81,125.33 175.04,124.58 175.07,125.36 175.15,126.14 175.68,126.83 175.82,127.60 175.52,128.44 175.95,129.16 176.23,129.90 175.90,130.74 176.27,131.47 176.29,130.70 176.64,129.99 176.48,129.20 176.92,128.51 176.84,127.72 176.92,126.97 177.44,126.29 177.38,125.51 178.23,126.23 178.86,127.15 179.27,126.48 179.46,125.74 179.38,124.92 179.89,124.27 179.82,123.45 180.01,122.71 180.03,121.92 179.99,121.11 180.06,120.34 181.72,120.04 180.35,118.83 181.17,118.28 182.10,117.76 181.69,116.84 182.20,116.20 182.92,115.61 181.83,114.41 184.07,114.32 184.12,113.51 183.70,112.53 182.63,111.34 184.36,111.09 184.20,110.20 185.00,109.62 184.05,108.60 185.05,108.07 183.83,106.98 184.19,106.29 184.74,105.65 186.53,105.31 184.83,104.11 186.26,103.68 185.14,102.62 186.20,102.10 185.39,101.19 186.97,100.57 187.62,99.84 186.20,98.85 187.41,98.19 186.37,97.25 187.67,96.60 186.29,95.61 186.21,94.79 187.20,94.10 187.97,93.51 186.73,92.41 188.14,91.98 187.24,90.97 188.69,90.56 187.83,89.55 188.05,88.82 189.32,88.36 188.37,87.33 189.57,86.86 189.30,86.00 188.97,85.17 189.15,84.43 190.32,83.86 189.28,82.91 190.14,82.29 189.83,81.46 190.81,80.86 190.30,80.00 190.89,79.27 190.05,78.41 191.09,77.72 190.33,76.87 191.09,76.15 190.34,75.30 190.43,74.53 190.53,73.75 191.18,73.02 191.40,72.26 190.70,71.42 190.78,70.64 191.54,69.92 191.49,69.13 191.18,68.32 190.92,67.52 191.96,66.82 191.50,66.00 191.74,65.23 191.93,64.45 191.49,63.61 191.91,62.85 191.69,62.04 192.10,61.28 191.52,60.43 192.38,59.71 191.62,58.84 192.20,58.10 192.41,57.31 192.72,56.52 192.56,55.73 192.04,54.93 191.80,54.14 192.70,53.35 191.92,52.55 192.11,51.77 192.46,50.98 192.75,50.19 192.00,49.39 192.30,48.60 192.27,49.55 193.12,50.21 192.64,51.31 193.40,52.00 193.17,51.20 193.14,50.43 194.08,49.81 194.12,49.05 194.08,48.28 194.41,47.57 193.66,46.69 194.59,46.07 194.85,45.34 194.09,44.47 195.12,43.86 194.50,43.00 195.02,42.31 194.86,41.53 195.10,40.80 195.02,40.03 195.45,39.32 195.71,38.59 195.01,37.74 195.03,36.99 195.93,36.33 195.51,35.52 196.24,34.85 196.39,34.11 196.25,33.33 196.40,32.59 196.20,31.80 196.80,30.70 196.72,29.93 197.14,29.18 196.59,28.38 197.20,27.64 196.65,26.84 197.56,26.11 197.30,25.33 197.34,24.56 197.27,23.79 196.67,22.99 197.63,22.26 197.09,21.47 197.15,20.70 197.62,19.95 197.76,19.19 197.40,18.40 196.99,19.22 197.97,19.98 197.38,20.81 197.05,21.62 197.89,22.39 197.41,23.21 197.80,23.99 197.19,24.82 197.39,25.61 198.07,26.39 198.21,27.18 198.30,27.98 197.50,28.82 197.90,29.60 198.29,30.34 197.90,31.16 198.44,31.88 197.86,32.72 198.85,33.39 198.08,34.25 198.77,34.95 198.06,35.81 198.28,36.57 198.92,37.27 198.65,38.08 199.27,38.79 199.00,39.60 199.60,40.80 199.84,40.04 199.97,39.28 199.86,38.52 199.20,37.73 200.14,37.00 199.59,36.21 199.47,35.44 199.65,34.68 200.19,33.94 199.39,33.15 200.04,32.41 199.70,31.63 199.47,30.86 200.27,30.12 199.54,29.33 200.23,28.59 199.58,27.80 200.23,27.06 200.23,26.29 200.31,25.53 199.98,24.76 200.20,24.00 199.74,24.81 199.96,25.58 200.53,26.33 199.95,27.15 200.33,27.91 201.02,28.65 200.41,29.47 201.09,30.21 200.23,31.05 200.70,31.80 201.13,32.57 200.41,33.39 200.32,34.19 201.37,34.93 200.36,35.76 200.37,36.55 201.17,37.31 200.49,38.13 201.46,38.87 200.94,39.69 201.20,40.47 200.61,41.28 201.64,42.03 201.47,42.82 200.84,43.64 201.41,44.41 201.30,45.20 201.64,45.93 201.24,46.82 201.80,47.50 202.38,46.78 201.81,45.88 202.03,45.11 202.04,44.30 202.64,43.59 202.70,42.79 202.50,41.95 203.13,41.24 202.99,40.41 203.00,39.60 203.50,38.50 203.81,39.26 203.34,40.07 203.93,40.81 203.55,41.62 204.24,42.35 204.31,43.13 204.25,43.91 203.71,44.72 203.51,45.52 203.79,46.28 203.67,47.07 204.25,47.81 204.10,48.60 204.54,49.37 204.08,50.21 204.03,51.02 204.52,51.79 204.09,52.63 204.66,53.39 204.24,54.22 204.60,55.00 204.92,55.70 204.85,56.49 204.73,57.29 204.84,58.04 205.81,58.57 205.58,59.41 205.90,60.10 206.02,60.88 205.99,61.70 206.49,62.35 206.35,63.21 206.75,63.90 207.63,64.43 207.90,65.15 207.80,66.00 207.57,66.78 208.27,67.50 208.41,68.25 207.60,69.07 208.39,69.78 207.71,70.60 208.36,71.32 207.87,72.12 208.65,72.82 208.65,73.59 208.05,74.40 208.76,75.11 208.12,75.92 209.11,76.62 208.23,77.45 208.16,78.22 209.25,78.90 208.80,79.70 209.50,79.05 209.41,78.19 209.74,77.45 209.23,76.49 210.18,75.90 209.89,74.99 210.60,74.34 210.73,73.54 210.43,72.64 210.80,71.90 211.08,72.88 212.42,72.82 212.70,73.80 212.53,74.62 213.02,75.36 212.55,76.23 213.28,76.94 212.69,77.82 213.69,78.49 213.17,79.36 213.90,80.07 213.39,80.94 213.70,81.70 213.94,80.95 213.47,80.17 213.34,79.40 213.48,78.65 214.04,77.92 213.64,77.14 213.70,76.38 214.28,75.65 214.37,74.90 213.95,74.12 214.35,73.38 214.00,72.60 213.95,71.84 214.45,71.10 213.90,70.32 214.17,69.57 213.88,68.80 214.78,68.08 214.26,67.30 214.99,66.57 214.81,65.80 214.23,65.01 214.74,64.28 214.81,63.52 214.29,62.74 214.70,62.00 214.41,61.21 215.31,60.55 214.58,59.71 214.48,58.95 215.39,58.28 214.69,57.45 215.74,56.80 215.60,56.03 215.79,55.29 215.23,54.48 216.01,53.80 215.39,52.98 215.17,52.20 216.18,51.54 215.41,50.70 215.49,49.96 216.17,49.27 216.24,48.52 215.64,47.70 216.55,47.03 215.93,46.21 216.68,45.53 216.88,44.79 216.15,43.96 216.26,43.21 216.70,42.50 217.10,43.23 216.59,44.17 217.40,44.80 216.94,45.73 217.60,46.40 217.83,47.27 218.23,48.05 218.90,48.69 218.82,49.72 219.60,50.30 220.12,51.05 219.58,51.98 219.76,52.79 219.81,53.62 219.89,54.45 220.91,55.11 220.60,56.00 220.45,55.14 220.60,54.32 221.27,53.60 220.93,52.70 220.95,51.86 221.79,51.17 221.60,50.30 221.85,51.04 221.44,51.84 222.14,52.53 221.49,53.35 221.68,54.09 222.54,54.77 221.84,55.60 222.51,56.30 221.73,57.13 222.07,57.86 222.51,58.58 222.08,59.38 222.50,60.10 222.93,59.31 223.00,58.45 222.46,57.49 223.30,56.77 222.85,55.82 223.51,55.07 223.50,54.20 223.96,54.95 223.46,55.79 223.41,56.58 224.26,57.31 223.51,58.16 224.28,58.89 223.76,59.72 224.38,60.46 223.59,61.32 223.75,62.10 224.70,62.81 223.86,63.68 224.21,64.44 223.94,65.26 224.50,66.00 224.45,65.14 225.38,64.52 224.99,63.57 225.62,62.88 225.50,62.00 226.05,62.75 225.45,63.58 225.17,64.39 225.20,65.17 225.35,65.95 225.68,66.72 225.74,67.50 226.25,68.26 225.70,69.08 226.24,69.83 225.93,70.64 226.49,71.40 226.03,72.21 226.71,72.96 225.83,73.80 226.83,74.53 225.89,75.37 226.86,76.10 225.94,76.95 226.50,77.70 227.08,76.99 226.94,76.19 226.28,75.33 226.50,74.58 227.06,73.86 226.91,73.06 227.33,72.33 227.05,71.52 227.75,70.82 227.40,70.00 227.44,69.16 227.69,68.37 228.40,67.70 227.82,66.71 228.40,66.00 228.59,66.75 228.26,67.53 228.83,68.26 228.11,69.06 228.89,69.78 228.46,70.57 228.40,71.33 229.19,72.06 229.30,72.81 229.14,73.58 228.40,74.38 228.99,75.11 228.52,75.90 229.43,76.62 229.49,77.37 228.65,78.18 229.33,78.91 228.97,79.69 228.93,80.45 229.42,81.19 228.92,81.98 229.14,82.73 229.79,83.46 229.50,84.23 229.40,85.00 229.08,85.91 229.56,86.61 229.76,87.39 230.20,88.10 230.79,88.85 229.78,89.74 230.92,90.43 229.95,91.32 230.36,92.08 230.83,92.84 230.53,93.67 231.08,94.42 230.57,95.26 231.15,96.01 231.24,96.80 230.73,97.64 230.98,98.42 231.20,99.20 231.56,98.50 232.00,97.82 232.17,97.08 231.42,96.10 232.38,95.55 232.57,94.81 232.50,94.00 233.00,94.75 233.72,95.42 232.95,96.70 234.24,97.12 234.20,98.10 234.05,98.91 234.85,99.56 234.85,100.34 234.04,101.26 235.01,101.88 235.58,102.57 234.66,103.51 235.20,104.20 235.02,105.00 235.58,105.68 235.12,106.53 236.29,107.10 235.55,108.00 236.15,108.67 235.58,109.53 236.20,110.20 236.93,110.68 237.31,111.34 236.78,112.44 237.70,112.83 238.31,113.37 237.83,114.45 239.02,114.70 238.38,115.86 239.20,116.30 238.99,117.11 239.06,117.88 239.97,118.58 239.94,119.37 239.38,120.20 239.39,120.99 240.14,121.70 239.33,122.56 240.26,123.26 240.17,124.05 239.73,124.88 240.31,125.60 240.20,126.40 239.92,127.25 240.82,127.95 240.24,128.83 240.13,129.66 240.94,130.37 240.37,131.25 240.47,132.05 241.19,132.78 241.48,133.55 241.20,134.40 241.30,135.22 241.25,136.09 242.22,136.61 242.01,137.53 242.82,138.11 242.62,139.03 243.50,139.58 243.30,140.50 244.14,141.08 243.86,142.22 244.11,143.10 245.27,143.52 245.30,144.50 246.12,144.88 246.24,145.96 246.98,146.42 247.93,146.67 248.30,147.50 249.05,147.79 249.80,148.12 250.55,148.69 251.30,149.00 252.11,148.91 252.92,149.20 253.73,148.89 254.53,149.01 255.34,149.18 256.15,149.05 256.96,149.07 257.77,149.27 258.57,149.30 259.38,149.17 260.19,149.30 261.00,149.30" fill="none" stroke="#000" stroke-width="1.1" stroke-linejoin="round"/>
<polygon points="281.20,149.00 281.20,102.10 284.00,92.00 285.50,85.00 286.20,73.80 287.80,44.40 289.40,17.40 291.30,34.60 292.70,54.20 293.70,73.80 294.10,80.00 294.70,85.00 295.10,95.10 295.90,101.80 297.60,106.80 300.10,111.90 302.60,116.90 305.20,121.10 308.50,125.30 311.90,129.50 314.40,135.40 316.10,138.80 318.60,141.30 321.00,142.20 324.30,143.40 328.30,145.40 332.40,147.40 338.00,148.90 388.50,149.00" fill="#8a8a8a" stroke="#444" stroke-width="0.5" stroke-linejoin="round"/>
<polyline points="281.50,146.80 282.33,146.03 283.17,146.43 284.00,145.60 285.00,145.62 286.00,146.00 286.80,145.43 287.60,144.50 288.17,143.91 288.41,143.08 289.00,142.50 289.33,141.77 289.50,141.01 289.15,140.18 289.79,139.49 289.88,138.72 289.97,137.96 290.09,137.19 289.49,136.33 290.29,135.66 289.85,134.82 290.40,134.12 290.16,133.30 290.39,132.56 290.91,133.21 291.07,133.96 290.65,134.86 291.45,135.45 291.21,136.30 291.78,136.94 291.51,137.80 291.92,138.49 291.85,137.66 292.42,136.94 292.16,136.09 292.64,135.35 292.29,134.48 292.50,133.71 292.46,132.89 293.08,132.18 293.43,131.42 293.22,130.58 293.50,131.34 293.17,132.23 293.34,133.01 294.16,133.68 293.67,134.59 294.50,135.26 293.97,136.18 294.69,136.86 294.31,137.75 295.02,138.44 294.87,139.29 295.17,138.55 294.84,137.70 295.41,137.01 295.12,136.17 295.76,135.49 295.44,134.64 295.89,133.93 295.53,133.08 296.21,132.40 295.92,131.56 296.30,130.84 296.22,131.65 296.89,132.32 296.52,133.18 297.20,133.86 296.74,134.73 297.26,135.44 297.00,136.28 297.06,137.06 297.77,137.73 297.77,138.53 297.75,139.32 298.07,138.62 297.86,137.81 298.34,137.13 298.11,136.33 298.74,135.68 298.50,134.87 298.58,134.12 299.09,133.44 298.83,132.63 299.24,131.94 299.37,131.20 299.40,130.44 299.43,131.23 299.90,131.93 299.77,132.75 300.23,133.45 300.55,134.18 300.12,135.07 300.81,135.72 300.67,136.55 301.16,135.89 300.89,135.06 301.30,134.38 301.44,133.65 301.32,132.85 301.96,132.22 301.55,131.36 302.32,130.76 301.83,129.88 302.32,129.22 302.19,130.05 302.84,130.78 302.74,131.61 302.52,132.46 302.62,133.26 303.29,133.98 302.96,134.84 303.23,135.62 303.36,136.42 303.68,137.19 303.47,138.03 303.35,137.17 304.06,136.49 304.27,135.69 303.90,134.77 304.51,134.07 304.73,133.28 304.43,132.37 304.96,131.65 304.93,130.80 305.25,130.03 305.10,130.85 305.88,131.45 305.93,132.21 306.20,132.93 305.96,133.76 306.57,134.40 306.32,135.24 306.80,135.91 306.78,136.69 307.19,135.99 306.88,135.10 307.45,134.44 307.41,133.62 307.55,132.85 308.22,132.22 307.88,131.32 308.50,130.68 308.52,129.88 308.61,130.68 308.73,131.48 308.89,132.27 309.34,133.00 309.43,133.80 309.24,134.66 309.82,135.37 309.59,136.24 309.78,137.02 310.09,137.78 310.11,137.00 310.11,136.22 310.13,135.44 310.79,134.74 310.86,133.96 310.93,133.19 311.02,132.42 310.76,131.60 311.24,130.88 311.09,130.07 311.28,130.83 311.10,131.65 311.69,132.35 311.70,133.13 311.84,133.90 311.60,134.72 311.70,135.50 311.84,136.26 312.39,136.97 312.06,137.81 312.33,138.55 312.25,137.78 312.81,137.09 312.96,136.35 312.59,135.53 313.11,134.84 312.86,134.04 313.22,133.33 312.88,132.51 313.59,131.85 313.29,131.04 313.42,130.30 313.71,129.57 313.57,128.79 313.93,128.07 313.71,127.28 314.05,126.56 314.10,127.34 314.66,128.00 314.33,128.86 314.48,129.61 314.80,130.32 315.28,131.00 315.06,131.84 315.31,132.57 315.58,133.29 315.91,132.51 315.81,131.63 316.30,130.88 316.00,129.96 316.67,129.25 316.41,128.34 317.05,127.62 316.97,126.74 317.10,127.60 317.35,128.41 317.78,129.18 317.86,130.04 318.00,130.89 318.64,131.59 318.68,132.48 318.92,131.70 318.85,130.88 318.95,130.08 319.38,129.33 319.42,128.53 319.29,127.70 319.67,126.94 319.52,126.11 319.67,125.31 320.07,124.56 320.04,123.75 320.26,122.97 319.93,122.11 320.31,121.35 321.18,121.83 322.05,122.72 321.97,121.94 322.44,121.22 322.16,120.41 322.60,119.68 322.31,118.88 322.71,118.15 322.38,117.34 322.87,116.62 322.93,115.85 322.64,115.05 322.73,114.28 322.83,113.52 323.24,112.79 322.92,111.98 323.80,111.30 323.35,110.48 324.30,110.20 323.68,109.34 323.61,108.53 324.01,107.75 323.76,106.92 324.94,106.19 323.46,105.27 323.79,104.49 325.09,103.77 324.05,102.88 323.92,102.06 326.20,101.42 325.00,100.52 325.86,98.62 326.73,99.63 328.06,98.98 326.12,98.08 326.11,97.32 327.29,96.66 327.95,95.96 326.70,95.11 328.37,94.48 327.94,93.69 326.15,92.80 328.33,92.22 326.13,91.29 328.51,90.72 327.77,89.91 327.00,89.09 328.85,88.49 326.92,87.58 328.24,86.93 327.42,86.11 327.53,85.37 328.34,84.67 327.66,83.87 328.90,83.21 329.21,82.48 326.92,81.55 328.20,80.89 329.26,80.52 328.47,79.34 329.51,78.96 328.68,77.76 329.18,77.14 330.05,76.69 330.75,76.01 329.95,75.17 330.56,74.48 330.00,73.67 330.27,72.94 330.71,72.23 330.18,71.42 330.99,70.75 330.60,69.96 331.01,69.24 331.06,68.50 330.79,67.71 331.13,66.99 331.02,66.23 331.26,65.50 331.10,64.73 331.39,64.00 331.47,63.26 331.37,62.49 331.57,61.76 331.46,62.52 331.80,63.26 331.85,64.01 331.91,64.77 332.04,65.52 331.78,66.30 332.15,67.03 332.20,67.78 332.22,68.54 332.22,69.30 332.17,70.07 332.41,70.81 332.19,71.58 332.46,72.32 332.34,73.09 332.56,73.83 332.40,74.61 332.77,75.34 332.65,76.11 332.75,76.86 332.73,76.09 332.97,75.34 332.85,74.57 332.90,73.81 333.07,73.05 333.17,72.30 333.17,71.53 333.18,70.77 333.21,70.00 333.07,69.23 333.13,68.47 333.47,67.73 333.29,66.95 333.58,66.20 333.38,65.43 333.66,64.68 333.70,63.92 333.55,63.15 333.57,62.38 333.50,61.61 333.87,60.87 333.72,60.10 333.72,59.33 333.98,58.58 333.81,57.81 334.12,57.06 333.84,56.28 334.12,55.54 334.10,54.77 334.23,55.53 334.11,56.32 334.37,57.07 334.32,57.85 334.62,58.60 334.42,59.40 334.68,60.15 334.60,60.93 334.86,61.69 334.75,62.47 335.03,63.22 334.79,64.02 335.14,64.77 335.08,65.55 335.24,64.80 335.06,64.03 335.17,63.28 335.43,62.53 335.46,61.78 335.40,61.02 335.45,60.26 335.54,59.51 335.38,58.74 335.65,58.00 335.68,57.24 335.54,56.47 335.75,55.72 335.89,54.97 335.68,54.20 335.97,53.46 335.79,52.69 335.94,51.94 335.87,51.18 336.16,50.44 335.95,49.67 336.12,48.92 336.00,48.15 336.25,47.41 336.17,46.64 336.26,45.89 336.25,46.67 336.42,47.43 336.47,48.20 336.42,48.98 336.68,49.74 336.77,50.51 336.54,51.30 336.75,52.06 336.64,52.84 336.97,53.59 336.80,54.38 336.81,55.16 337.15,55.91 336.92,56.70 337.26,57.45 337.25,58.23 337.21,59.01 337.45,58.26 337.52,57.50 337.60,56.74 337.50,55.96 337.74,55.21 337.89,54.46 337.80,53.68 338.11,52.94 338.20,52.18 338.05,51.39 338.15,50.63 338.38,49.89 338.32,49.11 338.35,48.34 338.54,47.59 338.55,46.82 338.90,46.10 338.82,45.32 339.00,44.57 338.90,45.33 339.21,46.06 339.04,46.83 339.16,47.57 339.41,48.31 339.40,49.07 339.27,49.83 339.27,50.58 339.58,51.32 339.40,52.08 339.38,52.84 339.74,53.57 339.75,54.32 339.64,55.09 339.83,55.83 339.75,56.59 339.76,57.34 340.02,58.08 339.87,58.84 340.07,59.58 339.98,60.35 340.25,61.08 339.97,61.86 340.36,62.58 340.17,63.35 340.41,64.09 340.20,64.86 340.34,65.60 340.57,66.34 340.56,67.10 340.58,67.85 340.50,68.61 340.64,69.36 340.60,68.59 340.78,67.84 340.63,67.08 340.82,66.32 340.61,65.55 340.76,64.80 340.90,64.05 340.70,63.28 340.96,62.53 340.82,61.76 341.14,61.01 340.91,60.24 341.15,59.49 341.17,58.73 341.01,57.97 340.94,57.20 341.29,56.46 341.12,55.69 341.33,54.94 341.37,54.18 341.11,53.41 341.40,52.66 341.17,51.89 341.47,51.14 341.56,50.39 341.35,49.62 341.59,48.87 341.38,48.10 341.59,47.35 341.49,46.58 341.70,45.83 341.71,45.07 341.50,44.30 341.76,43.55 341.63,42.79 341.57,42.02 341.89,41.28 341.72,40.51 341.91,39.76 341.68,38.99 341.96,38.24 342.06,37.48 341.93,36.72 342.11,37.47 342.21,38.22 341.92,39.01 342.26,39.74 342.03,40.52 342.30,41.27 342.41,42.02 342.27,42.79 342.46,43.54 342.41,44.31 342.71,45.05 342.67,45.82 342.59,46.59 342.76,47.34 342.58,48.11 342.97,48.85 342.80,49.62 343.05,50.37 342.97,51.14 343.13,50.37 342.96,49.59 343.22,48.84 343.12,48.06 343.37,47.31 343.13,46.52 343.48,45.77 343.22,44.99 343.58,44.24 343.50,43.46 343.44,42.69 343.73,41.94 343.48,41.15 343.53,40.38 343.59,39.62 343.94,38.87 343.70,38.08 343.98,37.33 343.74,36.54 343.83,35.78 344.19,35.03 344.11,34.26 344.16,33.49 344.09,32.71 344.32,31.96 344.32,31.19 344.31,30.42 344.47,31.17 344.23,31.94 344.37,32.69 344.41,33.45 344.73,34.18 344.52,34.95 344.76,35.70 344.63,36.46 344.79,37.21 344.70,37.98 344.99,38.72 344.83,39.49 344.88,40.24 345.13,40.98 344.93,41.76 344.93,42.51 344.98,43.27 345.11,44.02 345.20,44.77 345.41,45.52 345.23,46.29 345.47,47.03 345.50,47.79 345.42,48.55 345.49,49.30 345.74,50.05 345.49,50.82 345.74,51.56 345.63,52.33 345.91,53.07 345.68,53.84 345.95,54.59 345.79,55.35 345.94,56.10 346.22,56.84 346.17,57.61 346.10,58.37 346.19,59.12 346.19,58.36 346.37,57.61 346.29,56.85 346.60,56.11 346.31,55.33 346.48,54.58 346.76,53.84 346.72,53.08 346.80,52.33 346.62,51.55 346.78,50.81 346.98,50.06 346.79,49.29 347.17,48.56 347.18,47.80 346.99,47.02 347.36,46.29 347.36,45.53 347.26,44.76 347.46,44.02 347.33,43.25 347.36,42.49 347.68,41.76 347.45,40.98 347.83,40.25 347.57,39.47 347.94,38.74 347.73,37.96 347.97,37.22 348.02,36.46 347.98,35.70 348.18,34.95 348.02,34.18 348.21,33.44 348.10,34.21 348.37,34.96 348.23,35.73 348.57,36.47 348.33,37.26 348.57,38.01 348.46,38.78 348.72,39.53 348.59,40.30 348.76,41.06 348.92,41.81 348.88,42.58 348.82,43.35 348.98,44.10 348.84,44.88 349.07,45.63 348.92,46.41 349.02,47.16 349.32,47.91 349.09,48.69 349.42,49.44 349.27,50.21 349.54,50.96 349.30,51.74 349.56,52.49 349.38,53.27 349.66,54.01 349.79,54.77 349.58,55.55 349.62,56.31 349.77,57.07 349.90,56.31 349.77,55.54 349.77,54.77 349.77,54.00 350.02,53.25 349.96,52.48 350.11,51.72 350.14,50.95 350.08,50.18 350.29,49.42 350.09,48.64 350.10,47.88 350.42,47.13 350.19,46.35 350.52,45.60 350.35,44.82 350.30,44.05 350.62,43.30 350.65,42.53 350.39,41.75 350.63,41.00 350.52,40.22 350.80,39.47 350.61,38.69 350.63,37.93 350.90,37.17 350.67,36.39 350.68,35.63 350.79,34.87 351.02,34.11 350.80,33.33 351.11,32.58 350.92,31.80 351.23,31.05 350.96,30.27 351.30,29.52 351.33,28.75 351.25,27.98 351.37,28.73 351.41,29.48 351.16,30.24 351.51,30.97 351.23,31.74 351.47,32.48 351.37,33.23 351.59,33.97 351.41,34.73 351.71,35.47 351.49,36.23 351.63,36.98 351.44,37.73 351.73,38.47 351.53,39.23 351.78,39.97 351.60,40.73 351.79,41.47 351.89,42.22 351.76,42.98 351.72,43.73 352.03,44.47 351.84,45.23 352.05,45.97 351.83,46.73 351.88,47.48 352.04,48.22 351.94,48.98 352.15,49.72 351.92,50.48 351.96,51.23 351.96,51.98 352.21,52.72 352.19,53.47 352.15,52.71 352.45,51.97 352.26,51.20 352.32,50.45 352.53,49.71 352.30,48.94 352.56,48.19 352.39,47.43 352.43,46.67 352.76,45.94 352.54,45.17 352.83,44.43 352.63,43.66 352.69,42.91 352.94,42.16 352.70,41.39 353.03,40.65 353.01,39.90 352.87,39.13 353.13,38.39 353.22,37.64 352.98,36.87 353.28,36.13 353.00,35.36 353.04,34.60 353.37,33.87 353.18,33.10 353.42,32.36 353.38,31.60 353.27,32.39 353.42,33.16 353.72,33.92 353.50,34.72 353.85,35.47 353.64,36.27 353.73,37.05 353.96,37.81 354.03,38.59 354.14,39.36 353.92,40.16 354.16,40.93 354.32,41.70 354.33,42.48 354.15,43.27 354.27,44.05 354.30,44.83 354.64,45.58 354.53,46.38 354.77,45.63 354.83,44.87 354.60,44.07 354.96,43.34 354.80,42.55 355.14,41.82 354.96,41.03 354.96,40.26 355.28,39.52 355.16,38.74 355.24,37.98 355.32,37.22 355.55,36.47 355.60,35.71 355.47,34.92 355.64,34.17 355.81,33.42 356.00,32.67 355.77,31.88 356.16,31.14 355.89,30.35 356.25,29.61 356.06,28.83 356.43,28.09 356.48,27.33 356.33,26.54 356.50,25.79 356.40,26.56 356.81,27.27 356.65,28.04 356.94,28.77 356.77,29.54 357.13,30.26 357.07,31.02 357.01,31.78 357.13,32.53 357.33,33.26 357.24,34.03 357.56,34.75 357.57,35.50 357.49,36.27 357.73,37.00 357.54,37.77 357.86,38.50 357.80,39.26 358.03,39.99 358.09,40.74 358.03,41.50 358.10,42.25 358.29,42.99 358.31,43.74 358.45,42.99 358.51,42.23 358.54,41.46 358.38,40.69 358.42,39.93 358.73,39.18 358.51,38.40 358.83,37.66 358.67,36.89 358.75,36.13 358.75,35.36 359.11,34.62 358.82,33.84 359.21,33.10 358.93,32.32 359.09,31.57 359.14,30.81 359.34,30.06 359.23,29.28 359.50,28.54 359.30,27.76 359.52,27.01 359.42,26.24 359.73,25.50 359.55,24.72 359.54,23.95 359.67,23.20 359.94,22.45 359.97,21.69 359.97,20.93 359.76,20.15 360.11,19.41 359.93,18.63 360.09,17.88 360.24,18.63 360.09,19.41 360.33,20.16 360.39,20.92 360.25,21.69 360.58,22.43 360.40,23.21 360.38,23.97 360.69,24.72 360.57,25.49 360.73,26.24 360.62,27.02 360.96,27.76 360.71,28.54 361.00,29.28 361.02,30.05 361.14,30.80 360.94,31.58 361.21,32.33 361.01,33.10 361.40,33.84 361.12,34.63 361.20,35.38 361.56,36.12 361.35,36.90 361.39,37.67 361.56,38.42 361.75,37.65 361.53,36.85 361.89,36.10 361.80,35.31 362.01,34.54 361.83,33.75 362.18,33.00 362.05,32.20 362.08,31.42 362.36,30.66 362.45,29.89 362.29,29.09 362.63,28.34 362.46,27.54 362.67,26.78 362.70,26.00 362.91,26.76 362.69,27.56 363.06,28.30 363.15,29.07 362.91,29.87 363.20,30.62 363.15,31.40 363.37,32.16 363.42,32.93 363.28,33.72 363.67,34.46 363.52,35.26 363.74,36.01 363.92,36.78 363.80,37.57 363.97,38.33 364.03,39.10 364.24,39.86 364.21,40.64 364.27,41.41 364.15,42.20 364.43,42.95 364.35,43.74 364.36,44.51 364.75,45.26 364.67,46.04 364.72,46.81 364.73,47.59 365.18,48.30 365.06,49.09 365.38,49.82 365.28,50.61 365.35,51.38 365.65,52.11 365.76,52.87 365.97,53.62 365.87,54.41 366.12,55.15 365.94,55.96 366.53,56.64 366.52,57.42 366.83,58.15 366.44,58.99 367.04,59.68 366.59,60.52 366.47,61.32 367.10,62.00 367.70,62.68 366.83,63.57 367.85,64.19 367.15,65.06 368.05,65.69 367.57,66.53 368.28,67.19 368.00,68.00 368.52,68.73 367.76,69.52 368.32,70.24 367.69,71.02 368.32,71.74 368.10,72.51 368.13,73.26 368.00,74.01 368.61,74.74 368.80,75.48 368.07,76.27 368.80,76.98 368.16,77.77 368.18,78.52 368.25,79.27 368.60,80.00 369.11,80.75 368.22,81.55 368.47,82.31 369.20,83.05 369.05,83.82 368.57,84.61 369.01,85.36 368.44,86.15 368.72,86.91 368.76,87.67 369.08,88.43 368.70,89.21 369.17,89.96 368.59,90.75 369.23,91.49 369.47,92.25 369.62,93.01 368.75,93.81 369.43,94.56 368.88,95.34 369.20,96.10 369.56,96.83 369.70,97.58 369.88,98.33 369.24,99.14 370.01,99.84 369.31,100.66 369.79,101.38 370.18,102.11 369.31,102.94 369.98,103.65 369.64,104.44 370.41,105.14 370.40,105.90 370.32,106.67 370.60,107.41 370.20,108.20 370.08,109.03 370.84,109.74 370.74,110.57 370.10,111.46 370.52,112.22 370.98,112.98 371.34,113.75 371.29,114.56 371.22,115.39 371.20,116.20 370.97,117.01 371.68,117.72 371.08,118.57 371.64,119.30 371.71,120.07 371.30,120.90 372.17,121.60 371.47,122.45 371.50,123.23 371.77,123.99 372.32,124.72 371.83,125.55 372.20,126.30 372.57,127.07 372.10,127.96 372.73,128.70 373.03,129.49 372.29,130.41 372.73,131.18 373.10,131.95 373.47,132.73 372.84,133.64 373.30,134.40 373.26,135.25 373.97,135.84 373.74,136.75 374.62,137.29 374.20,138.27 374.94,138.85 375.14,139.62 375.30,140.40 375.31,141.22 375.79,141.86 376.42,142.44 376.13,143.38 376.88,143.91 376.93,144.72 377.30,145.40 377.70,146.13 378.05,146.89 378.61,147.49 379.30,148.00 380.04,147.97 380.78,148.58 381.52,148.37 382.26,148.86 383.00,148.80 383.79,149.00 384.57,149.00 385.36,148.66 386.14,148.97 386.93,148.74 387.71,149.00 388.50,149.00" fill="none" stroke="#000" stroke-width="1.1" stroke-linejoin="round"/>
<polygon points="410.50,148.60 410.50,101.50 411.50,104.00 412.60,100.40 413.40,88.00 414.30,78.00 415.00,68.00 415.70,56.00 416.40,42.00 416.90,32.00 417.30,26.00 418.40,17.00 418.80,17.00 419.60,24.00 419.90,28.00 420.60,35.00 421.30,42.00 422.00,56.00 422.40,70.00 422.60,85.00 422.70,95.00 424.20,104.20 426.50,111.90 428.80,119.60 431.90,125.80 435.00,130.40 438.10,134.20 441.20,137.30 445.00,140.40 449.60,142.70 455.00,144.20 461.20,145.80 465.00,146.50 470.00,147.20 480.00,148.00 500.00,148.40 517.00,148.60" fill="#8a8a8a" stroke="#444" stroke-width="0.5" stroke-linejoin="round"/>
<polyline points="410.50,102.00 410.78,102.75 410.62,103.58 411.01,104.30" fill="none" stroke="#000" stroke-width="1.1" stroke-linejoin="round"/>
<polyline points="411.01,104.30 411.21,105.07 411.10,105.89 411.52,106.61 411.45,107.42 411.58,108.20 411.96,108.93 411.90,109.74 412.10,110.50 412.01,109.72 412.31,108.95 412.13,108.17 412.32,107.40 412.39,106.62 412.43,105.84 412.21,105.05 412.46,104.29 412.32,103.50 412.53,102.73 412.63,101.96 412.46,101.17 412.60,100.40 412.80,99.63 412.65,98.85 412.70,98.07 412.84,97.30 412.90,96.53 412.85,95.75 413.08,94.98 412.90,94.19 413.15,93.43 413.05,92.65 413.22,91.88 413.37,91.11 413.19,90.32 413.18,89.54 413.49,88.78 413.40,88.00 413.57,87.24 413.42,86.45 413.53,85.69 413.74,84.93 413.64,84.14 413.91,83.39 413.80,82.61 413.83,81.84 414.19,81.09 414.02,80.30 414.22,79.54 414.16,78.76 414.30,78.00 414.28,77.23 414.53,76.47 414.54,75.70 414.60,74.93 414.45,74.15 414.48,73.37 414.83,72.63 414.64,71.84 414.67,71.07 414.76,70.30 414.77,69.53 415.12,68.78 415.00,68.00 414.96,67.25 415.14,66.50 415.00,65.74 415.25,65.00 415.10,64.24 415.41,63.51 415.22,62.74 415.40,62.00 415.34,61.25 415.38,60.50 415.55,59.75 415.39,58.99 415.74,58.26 415.50,57.49 415.75,56.76 415.70,56.00 415.64,55.22 415.62,54.44 415.95,53.67 415.97,52.89 415.73,52.10 416.11,51.34 416.13,50.56 416.06,49.78 416.13,49.00 416.00,48.22 416.16,47.45 416.02,46.66 416.32,45.89 416.07,45.10 416.42,44.34 416.29,43.55 416.29,42.77 416.40,42.00 416.27,41.22 416.32,40.45 416.62,39.70 416.38,38.91 416.65,38.16 416.78,37.39 416.84,36.62 416.55,35.84 416.91,35.09 416.69,34.30 416.97,33.55 416.73,32.76 416.90,32.00 416.85,31.24 417.04,30.50 417.15,29.76 416.99,28.99 417.22,28.25 417.13,27.50 417.18,26.75 417.30,26.00 417.55,25.27 417.44,24.50 417.71,23.77 417.52,22.98 417.83,22.26 417.98,21.52 418.00,20.76 417.90,19.98 418.25,19.26 418.07,18.48 418.42,17.76 418.40,17.00 418.80,17.00 418.81,17.79 419.10,18.54 418.91,19.35 419.32,20.09 419.19,20.90 419.47,21.65 419.30,22.46 419.68,23.20 419.60,24.00 419.51,24.81 419.83,25.59 419.73,26.40 420.01,27.19 419.90,28.00 419.88,28.79 420.18,29.54 420.05,30.34 420.10,31.12 420.44,31.87 420.46,32.66 420.36,33.45 420.46,34.23 420.60,35.00 420.83,35.76 420.60,36.57 420.92,37.32 420.86,38.12 420.89,38.90 420.92,39.68 421.30,40.43 421.29,41.22 421.30,42.00 421.27,42.78 421.52,43.55 421.30,44.34 421.62,45.10 421.34,45.90 421.68,46.66 421.46,47.45 421.78,48.21 421.55,49.01 421.78,49.77 421.60,50.56 421.68,51.34 421.72,52.12 421.95,52.88 422.03,53.66 421.88,54.45 422.00,55.22 422.00,56.00 421.93,56.78 422.10,57.55 421.92,58.34 421.92,59.12 422.17,59.89 422.23,60.66 422.00,61.45 422.35,62.22 422.37,63.00 422.05,63.78 422.38,64.55 422.20,65.34 422.35,66.11 422.36,66.89 422.21,67.67 422.42,68.44 422.31,69.22 422.40,70.00 422.56,70.75 422.35,71.50 422.33,72.25 422.63,73.00 422.32,73.75 422.45,74.50 422.41,75.25 422.69,76.00 422.46,76.75 422.71,77.50 422.43,78.25 422.76,79.00 422.77,79.75 422.44,80.50 422.68,81.25 422.60,82.00 422.57,82.75 422.75,83.50 422.57,84.25 422.70,85.00 422.70,85.79 422.84,86.57 422.91,87.35 422.64,88.15 423.00,88.92 422.81,89.72 422.82,90.51 423.20,91.28" fill="none" stroke="#1a1a1a" stroke-width="1.0" stroke-linejoin="round"/>
<polyline points="423.20,91.28 423.30,92.06 422.70,92.87 422.71,93.66 422.89,94.44 423.57,95.20 423.20,96.00 422.89,96.85 423.88,97.41 423.04,98.38 424.42,98.86 424.93,99.53 424.95,100.30 423.35,101.44 425.07,101.84 425.60,102.50 423.89,103.66 425.00,104.20 425.52,104.89 424.60,106.11 426.34,106.35 425.77,107.44 426.14,108.18 427.76,108.47 426.62,109.77 427.30,110.40 428.58,110.49 427.58,112.13 427.98,112.81 428.87,113.16 429.72,113.55 430.17,114.20 430.40,115.00 430.03,115.95 431.09,116.47 430.78,117.40 431.58,118.00 432.51,118.56 432.29,119.47 430.93,120.71 431.15,121.48 433.48,121.63 432.70,122.70 432.25,123.86 434.32,123.57 433.43,124.97 434.49,125.26 434.16,126.35 435.89,126.26 434.94,127.69 435.80,128.10 435.16,129.38 437.25,129.29 436.42,130.66 436.67,131.50 437.47,132.05 438.10,132.70 438.86,133.03 438.49,134.49 439.02,135.04 440.72,134.43 440.55,135.68 441.62,135.69 441.90,136.50 442.67,135.88 443.43,138.28 444.20,137.30 444.98,136.21 445.75,136.69 446.52,138.92 447.30,138.10 448.07,139.94 448.85,137.42 449.62,140.62 450.40,139.60 451.17,140.40 451.93,137.69 452.70,138.80 453.47,139.28 454.23,138.75 455.00,138.10 455.95,138.30 456.52,138.88 456.14,140.41 457.30,140.40 457.92,139.60 458.54,142.01 459.16,140.76 459.78,143.28 460.40,142.70 461.08,144.29 461.76,142.77 462.44,144.88 463.12,144.81 463.80,145.00 464.56,144.27 465.32,146.32 466.08,145.85 466.84,147.30 467.60,147.00 468.53,146.57 469.45,147.39 470.38,147.06 471.30,146.60 472.06,145.85 472.82,146.89 473.58,146.52 474.34,145.54 475.10,146.00 475.95,146.35 476.80,145.11 477.65,146.10 478.50,146.17 479.35,145.48 480.20,144.90 481.03,145.37 481.87,145.44 482.70,145.37 483.53,145.41 484.37,145.16 485.20,144.80 486.05,145.25 486.90,144.46 487.75,145.71 488.60,144.19 489.45,145.80 490.30,145.30 491.01,145.28 491.73,146.80 492.44,145.34 493.16,147.25 493.87,146.96 494.59,147.24 495.30,147.20 496.15,146.91 497.00,148.06 497.85,147.13 498.70,148.06 499.55,148.35 500.40,147.80 501.23,147.36 502.07,148.31 502.90,147.36 503.73,148.60 504.57,148.08 505.40,148.50 506.17,148.60 506.95,148.60 507.72,148.27 508.49,148.60 509.27,148.22 510.04,148.60 510.81,148.42 511.59,148.60 512.36,148.52 513.13,148.42 513.91,148.60 514.68,148.39 515.45,148.60 516.23,148.47 517.00,148.60" fill="none" stroke="#000" stroke-width="1.1" stroke-linejoin="round"/>
</svg>
</body></html>
